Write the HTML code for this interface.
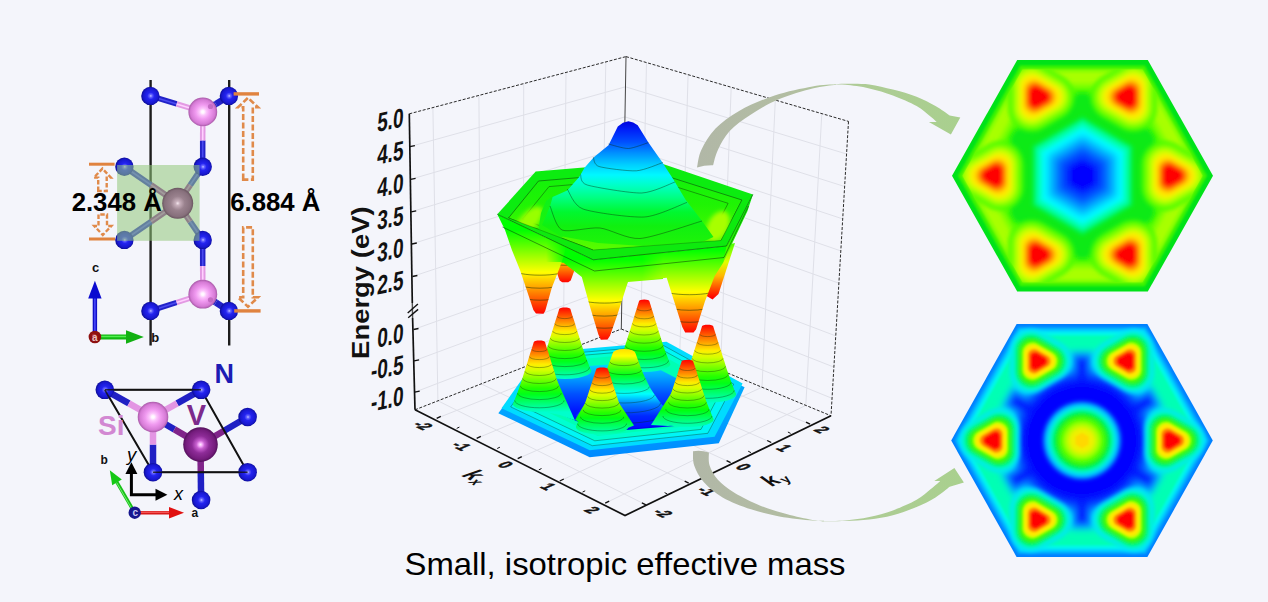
<!DOCTYPE html><html><head><meta charset="utf-8"><style>html,body{margin:0;padding:0;background:#f4f5fb;overflow:hidden}svg{display:block}text{font-family:"Liberation Sans",sans-serif}</style></head><body>
<svg width="1268" height="602" viewBox="0 0 1268 602">
<defs>
<filter id="b1" filterUnits="userSpaceOnUse" x="0" y="0" width="1268" height="602"><feGaussianBlur stdDeviation="1.2"/></filter>
<filter id="b2" filterUnits="userSpaceOnUse" x="0" y="0" width="1268" height="602"><feGaussianBlur stdDeviation="2.2"/></filter>
<filter id="b3" filterUnits="userSpaceOnUse" x="0" y="0" width="1268" height="602"><feGaussianBlur stdDeviation="3.5"/></filter>
<filter id="b5" filterUnits="userSpaceOnUse" x="0" y="0" width="1268" height="602"><feGaussianBlur stdDeviation="5"/></filter>
<radialGradient id="gN" cx="0.52" cy="0.5" r="0.5"><stop offset="0" stop-color="#c8c8ff"/><stop offset="0.14" stop-color="#6a6aff"/><stop offset="0.38" stop-color="#2424f0"/><stop offset="0.8" stop-color="#1818d0"/><stop offset="1" stop-color="#0e0e9a"/></radialGradient>
<radialGradient id="gSi" cx="0.5" cy="0.5" r="0.5"><stop offset="0" stop-color="#ffffff"/><stop offset="0.1" stop-color="#fff4ff"/><stop offset="0.25" stop-color="#fcc4fc"/><stop offset="0.5" stop-color="#f09af0"/><stop offset="0.85" stop-color="#d57ad5"/><stop offset="1" stop-color="#a85aa8"/></radialGradient>
<radialGradient id="gV" cx="0.5" cy="0.5" r="0.5"><stop offset="0" stop-color="#f4e6ee"/><stop offset="0.14" stop-color="#c8b0bc"/><stop offset="0.45" stop-color="#9a828e"/><stop offset="0.85" stop-color="#87707c"/><stop offset="1" stop-color="#6a5660"/></radialGradient>
<radialGradient id="gV2" cx="0.5" cy="0.5" r="0.5"><stop offset="0" stop-color="#fff0ff"/><stop offset="0.1" stop-color="#f8b0fc"/><stop offset="0.24" stop-color="#c860d0"/><stop offset="0.5" stop-color="#8e2c98"/><stop offset="0.85" stop-color="#741c7c"/><stop offset="1" stop-color="#54105c"/></radialGradient>
<linearGradient id="g1" gradientUnits="userSpaceOnUse" x1="0.0" y1="405.0" x2="0.0" y2="460.0"><stop offset="0.000" stop-color="#00a8ff"/><stop offset="1.000" stop-color="#0088ff"/></linearGradient>
<linearGradient id="g2" gradientUnits="userSpaceOnUse" x1="0.0" y1="360.0" x2="0.0" y2="428.0"><stop offset="0.000" stop-color="#00e8ff"/><stop offset="0.235" stop-color="#00a8ff"/><stop offset="0.500" stop-color="#0050ff"/><stop offset="0.735" stop-color="#0018ff"/><stop offset="1.000" stop-color="#0000f0"/></linearGradient>
<linearGradient id="g3" gradientUnits="userSpaceOnUse" x1="0.0" y1="307.4" x2="0.0" y2="379.0"><stop offset="0.000" stop-color="#ff0000"/><stop offset="0.083" stop-color="#ff3b00"/><stop offset="0.167" stop-color="#ff7700"/><stop offset="0.250" stop-color="#ffb200"/><stop offset="0.333" stop-color="#ffed00"/><stop offset="0.417" stop-color="#d4ff00"/><stop offset="0.500" stop-color="#99ff00"/><stop offset="0.583" stop-color="#5dff00"/><stop offset="0.667" stop-color="#22ff00"/><stop offset="0.750" stop-color="#00ff19"/><stop offset="0.833" stop-color="#00ff55"/><stop offset="0.917" stop-color="#00ff90"/><stop offset="1.000" stop-color="#00ffcb"/></linearGradient>
<linearGradient id="g4" gradientUnits="userSpaceOnUse" x1="0.0" y1="299.6" x2="0.0" y2="372.1"><stop offset="0.000" stop-color="#ff0000"/><stop offset="0.083" stop-color="#ff3b00"/><stop offset="0.167" stop-color="#ff7700"/><stop offset="0.250" stop-color="#ffb200"/><stop offset="0.333" stop-color="#ffed00"/><stop offset="0.417" stop-color="#d4ff00"/><stop offset="0.500" stop-color="#99ff00"/><stop offset="0.583" stop-color="#5dff00"/><stop offset="0.667" stop-color="#22ff00"/><stop offset="0.750" stop-color="#00ff19"/><stop offset="0.833" stop-color="#00ff55"/><stop offset="0.917" stop-color="#00ff90"/><stop offset="1.000" stop-color="#00ffcb"/></linearGradient>
<linearGradient id="g5" gradientUnits="userSpaceOnUse" x1="0.0" y1="349.0" x2="0.0" y2="432.0"><stop offset="0.000" stop-color="#ffe000"/><stop offset="0.084" stop-color="#ffff00"/><stop offset="0.181" stop-color="#7aff00"/><stop offset="0.313" stop-color="#00ff1e"/><stop offset="0.446" stop-color="#00ffa3"/><stop offset="0.542" stop-color="#00ffff"/><stop offset="0.663" stop-color="#0084ff"/><stop offset="0.807" stop-color="#0028ff"/><stop offset="1.000" stop-color="#0000ff"/></linearGradient>
<linearGradient id="g6" gradientUnits="userSpaceOnUse" x1="0.0" y1="340.4" x2="0.0" y2="412.0"><stop offset="0.000" stop-color="#ff0000"/><stop offset="0.083" stop-color="#ff3b00"/><stop offset="0.167" stop-color="#ff7700"/><stop offset="0.250" stop-color="#ffb200"/><stop offset="0.333" stop-color="#ffed00"/><stop offset="0.417" stop-color="#d4ff00"/><stop offset="0.500" stop-color="#99ff00"/><stop offset="0.583" stop-color="#5dff00"/><stop offset="0.667" stop-color="#22ff00"/><stop offset="0.750" stop-color="#00ff19"/><stop offset="0.833" stop-color="#00ff55"/><stop offset="0.917" stop-color="#00ff90"/><stop offset="1.000" stop-color="#00ffcb"/></linearGradient>
<linearGradient id="g7" gradientUnits="userSpaceOnUse" x1="0.0" y1="324.7" x2="0.0" y2="402.9"><stop offset="0.000" stop-color="#ff0000"/><stop offset="0.083" stop-color="#ff3b00"/><stop offset="0.167" stop-color="#ff7700"/><stop offset="0.250" stop-color="#ffb200"/><stop offset="0.333" stop-color="#ffed00"/><stop offset="0.417" stop-color="#d4ff00"/><stop offset="0.500" stop-color="#99ff00"/><stop offset="0.583" stop-color="#5dff00"/><stop offset="0.667" stop-color="#22ff00"/><stop offset="0.750" stop-color="#00ff19"/><stop offset="0.833" stop-color="#00ff55"/><stop offset="0.917" stop-color="#00ff90"/><stop offset="1.000" stop-color="#00ffcb"/></linearGradient>
<linearGradient id="g8" gradientUnits="userSpaceOnUse" x1="0.0" y1="367.4" x2="0.0" y2="434.9"><stop offset="0.000" stop-color="#ff0000"/><stop offset="0.083" stop-color="#ff3a00"/><stop offset="0.167" stop-color="#ff7500"/><stop offset="0.250" stop-color="#ffaf00"/><stop offset="0.333" stop-color="#ffea00"/><stop offset="0.417" stop-color="#d8ff00"/><stop offset="0.500" stop-color="#9eff00"/><stop offset="0.583" stop-color="#63ff00"/><stop offset="0.667" stop-color="#28ff00"/><stop offset="0.750" stop-color="#00ff11"/><stop offset="0.833" stop-color="#00ff4c"/><stop offset="0.917" stop-color="#00ff87"/><stop offset="1.000" stop-color="#00ffc1"/></linearGradient>
<linearGradient id="g9" gradientUnits="userSpaceOnUse" x1="0.0" y1="359.8" x2="0.0" y2="427.3"><stop offset="0.000" stop-color="#ff0000"/><stop offset="0.083" stop-color="#ff3a00"/><stop offset="0.167" stop-color="#ff7500"/><stop offset="0.250" stop-color="#ffaf00"/><stop offset="0.333" stop-color="#ffea00"/><stop offset="0.417" stop-color="#d8ff00"/><stop offset="0.500" stop-color="#9eff00"/><stop offset="0.583" stop-color="#63ff00"/><stop offset="0.667" stop-color="#28ff00"/><stop offset="0.750" stop-color="#00ff11"/><stop offset="0.833" stop-color="#00ff4c"/><stop offset="0.917" stop-color="#00ff87"/><stop offset="1.000" stop-color="#00ffc1"/></linearGradient>
<linearGradient id="g10" gradientUnits="userSpaceOnUse" x1="0.0" y1="282.5" x2="0.0" y2="240.5"><stop offset="-0.000" stop-color="#ff0000"/><stop offset="0.100" stop-color="#ff2600"/><stop offset="0.200" stop-color="#ff4d00"/><stop offset="0.300" stop-color="#ff7400"/><stop offset="0.400" stop-color="#ff9b00"/><stop offset="0.500" stop-color="#ffc100"/><stop offset="0.600" stop-color="#ffe800"/><stop offset="0.700" stop-color="#eeff00"/><stop offset="0.800" stop-color="#c7ff00"/><stop offset="0.900" stop-color="#a1ff00"/><stop offset="1.000" stop-color="#7aff00"/></linearGradient>
<linearGradient id="g11" gradientUnits="userSpaceOnUse" x1="0.0" y1="276.0" x2="0.0" y2="234.0"><stop offset="-0.000" stop-color="#ff0000"/><stop offset="0.100" stop-color="#ff2600"/><stop offset="0.200" stop-color="#ff4d00"/><stop offset="0.300" stop-color="#ff7400"/><stop offset="0.400" stop-color="#ff9b00"/><stop offset="0.500" stop-color="#ffc100"/><stop offset="0.600" stop-color="#ffe800"/><stop offset="0.700" stop-color="#eeff00"/><stop offset="0.800" stop-color="#c7ff00"/><stop offset="0.900" stop-color="#a1ff00"/><stop offset="1.000" stop-color="#7aff00"/></linearGradient>
<linearGradient id="g12" gradientUnits="userSpaceOnUse" x1="0.0" y1="244.0" x2="0.0" y2="298.0"><stop offset="0.000" stop-color="#51ff00"/><stop offset="0.333" stop-color="#e0ff00"/><stop offset="0.593" stop-color="#ffb700"/><stop offset="0.815" stop-color="#ff5100"/><stop offset="1.000" stop-color="#ff0000"/></linearGradient>
<linearGradient id="g13" gradientUnits="userSpaceOnUse" x1="0.0" y1="170.0" x2="0.0" y2="255.0"><stop offset="0.000" stop-color="#10f00c"/><stop offset="0.412" stop-color="#20f404"/><stop offset="0.765" stop-color="#44fa00"/><stop offset="1.000" stop-color="#60fc00"/></linearGradient>
<linearGradient id="g14" gradientUnits="userSpaceOnUse" x1="0.0" y1="190.0" x2="0.0" y2="230.0"><stop offset="0.000" stop-color="#08f020"/><stop offset="1.000" stop-color="#20f408"/></linearGradient>
<linearGradient id="g15" gradientUnits="userSpaceOnUse" x1="0.0" y1="121.0" x2="0.0" y2="246.0"><stop offset="0.000" stop-color="#0000dc"/><stop offset="0.072" stop-color="#0020f8"/><stop offset="0.168" stop-color="#0050ff"/><stop offset="0.256" stop-color="#0090ff"/><stop offset="0.352" stop-color="#00d0ff"/><stop offset="0.432" stop-color="#00f8ff"/><stop offset="0.512" stop-color="#00ffc8"/><stop offset="0.616" stop-color="#00ff80"/><stop offset="0.728" stop-color="#00f830"/><stop offset="0.840" stop-color="#10f010"/><stop offset="1.000" stop-color="#20f408"/></linearGradient>
<linearGradient id="pks" gradientUnits="userSpaceOnUse" x1="560" y1="0" x2="640" y2="0"><stop offset="0" stop-color="#fff" stop-opacity="0.12"/><stop offset="0.5" stop-color="#fff" stop-opacity="0.05"/><stop offset="1" stop-color="#fff" stop-opacity="0"/></linearGradient>
<linearGradient id="g16" gradientUnits="userSpaceOnUse" x1="0.0" y1="194.0" x2="0.0" y2="264.0"><stop offset="0.000" stop-color="#08f008"/><stop offset="0.657" stop-color="#20f800"/><stop offset="1.000" stop-color="#70ff00"/></linearGradient>
<linearGradient id="g17" gradientUnits="userSpaceOnUse" x1="0.0" y1="341.2" x2="0.0" y2="259.5"><stop offset="-0.000" stop-color="#ff0000"/><stop offset="0.100" stop-color="#ff3300"/><stop offset="0.200" stop-color="#ff6500"/><stop offset="0.300" stop-color="#ff9900"/><stop offset="0.400" stop-color="#ffcb00"/><stop offset="0.500" stop-color="#ffff00"/><stop offset="0.600" stop-color="#cbff00"/><stop offset="0.700" stop-color="#99ff00"/><stop offset="0.800" stop-color="#65ff00"/><stop offset="0.900" stop-color="#33ff00"/><stop offset="1.000" stop-color="#00ff00"/></linearGradient>
<linearGradient id="mg1" gradientUnits="userSpaceOnUse" x1="546" y1="0" x2="567" y2="0"><stop offset="0" stop-color="#fff"/><stop offset="1" stop-color="#000"/></linearGradient>
<mask id="mk1" maskUnits="userSpaceOnUse" x="480" y="200" width="120" height="130"><rect x="480" y="200" width="120" height="130" fill="#fff"/><rect x="546" y="230" width="30" height="32" fill="url(#mg1)"/></mask>
<linearGradient id="g18" gradientUnits="userSpaceOnUse" x1="0.0" y1="314.3" x2="0.0" y2="230.0"><stop offset="-0.000" stop-color="#ff0000"/><stop offset="0.100" stop-color="#ff3300"/><stop offset="0.200" stop-color="#ff6500"/><stop offset="0.300" stop-color="#ff9900"/><stop offset="0.400" stop-color="#ffcb00"/><stop offset="0.500" stop-color="#ffff00"/><stop offset="0.600" stop-color="#cbff00"/><stop offset="0.700" stop-color="#99ff00"/><stop offset="0.800" stop-color="#65ff00"/><stop offset="0.900" stop-color="#33ff00"/><stop offset="1.000" stop-color="#00ff00"/></linearGradient>
<linearGradient id="mg3" gradientUnits="userSpaceOnUse" x1="642" y1="0" x2="663" y2="0"><stop offset="0" stop-color="#000"/><stop offset="1" stop-color="#fff"/></linearGradient>
<mask id="mk3" maskUnits="userSpaceOnUse" x="630" y="230" width="130" height="120"><rect x="630" y="230" width="130" height="120" fill="#fff"/><rect x="630" y="240" width="33" height="42" fill="url(#mg3)"/></mask>
<linearGradient id="g19" gradientUnits="userSpaceOnUse" x1="0.0" y1="333.5" x2="0.0" y2="250.0"><stop offset="-0.000" stop-color="#ff0000"/><stop offset="0.100" stop-color="#ff3300"/><stop offset="0.200" stop-color="#ff6500"/><stop offset="0.300" stop-color="#ff9900"/><stop offset="0.400" stop-color="#ffcb00"/><stop offset="0.500" stop-color="#ffff00"/><stop offset="0.600" stop-color="#cbff00"/><stop offset="0.700" stop-color="#99ff00"/><stop offset="0.800" stop-color="#65ff00"/><stop offset="0.900" stop-color="#33ff00"/><stop offset="1.000" stop-color="#00ff00"/></linearGradient>
</defs>
<rect width="1268" height="602" fill="#f4f5fb"/>
<clipPath id="hc1"><polygon points="1213.0,175.8 1147.8,291.6 1017.2,291.6 952.0,175.8 1017.2,60.0 1147.8,60.0"/></clipPath>
<g clip-path="url(#hc1)">
<polygon points="1222.5,175.8 1152.5,300.0 1012.5,300.0 942.5,175.8 1012.5,51.6 1152.5,51.6" fill="#00e218"/>
<g filter="url(#b1)">
<polygon points="1207.0,175.8 1144.8,286.2 1020.2,286.2 958.0,175.8 1020.2,65.4 1144.8,65.4" fill="#3cf400"/>
<polygon points="1202.5,175.8 1142.5,282.2 1022.5,282.2 962.5,175.8 1022.5,69.4 1142.5,69.4" fill="#8cff00"/>
<polygon points="1198.5,175.8 1140.5,278.7 1024.5,278.7 966.5,175.8 1024.5,72.9 1140.5,72.9" fill="#a8ff00"/>
</g>
<g filter="url(#b2)">
<polygon points="1186.5,175.8 1134.5,268.0 1030.5,268.0 978.5,175.8 1030.5,83.6 1134.5,83.6" fill="#80ff00"/>
<polygon points="1181.5,175.8 1132.0,263.6 1033.0,263.6 983.5,175.8 1033.0,88.0 1132.0,88.0" fill="#50fc00"/>
</g>
<clipPath id="hc1b"><polygon points="1202.5,175.8 1142.5,282.2 1022.5,282.2 962.5,175.8 1022.5,69.4 1142.5,69.4"/></clipPath>
<g filter="url(#b2)">
<polygon points="1173.5,175.8 1128.0,256.5 1037.0,256.5 991.5,175.8 1037.0,95.1 1128.0,95.1" fill="#08ea14"/>
<g transform="translate(1082.5,175.8) scale(1,1.0242) rotate(30)"><rect x="40" y="-5.5" width="41" height="11" fill="#08ea14"/></g>
<g transform="translate(1082.5,175.8) scale(1,1.0242) rotate(90)"><rect x="40" y="-5.5" width="41" height="11" fill="#08ea14"/></g>
<g transform="translate(1082.5,175.8) scale(1,1.0242) rotate(150)"><rect x="40" y="-5.5" width="41" height="11" fill="#08ea14"/></g>
<g transform="translate(1082.5,175.8) scale(1,1.0242) rotate(210)"><rect x="40" y="-5.5" width="41" height="11" fill="#08ea14"/></g>
<g transform="translate(1082.5,175.8) scale(1,1.0242) rotate(270)"><rect x="40" y="-5.5" width="41" height="11" fill="#08ea14"/></g>
<g transform="translate(1082.5,175.8) scale(1,1.0242) rotate(330)"><rect x="40" y="-5.5" width="41" height="11" fill="#08ea14"/></g>
</g>
<g clip-path="url(#hc1b)">
<g filter="url(#b2)">
<polygon points="1184.5,175.8 1165.0,187.1 1165.0,164.5" fill="#50fc00" stroke="#50fc00" stroke-width="47.0" stroke-linejoin="round"/>
<polygon points="1184.5,175.8 1165.0,187.1 1165.0,164.5" fill="#80ff00" stroke="#80ff00" stroke-width="39.0" stroke-linejoin="round"/>
<polygon points="1184.5,175.8 1165.0,187.1 1165.0,164.5" fill="#a8ff00" stroke="#a8ff00" stroke-width="33.0" stroke-linejoin="round"/>
</g>
<g filter="url(#b2)">
<polygon points="1133.5,266.0 1114.0,254.7 1133.5,243.5" fill="#50fc00" stroke="#50fc00" stroke-width="47.0" stroke-linejoin="round"/>
<polygon points="1133.5,266.0 1114.0,254.7 1133.5,243.5" fill="#80ff00" stroke="#80ff00" stroke-width="39.0" stroke-linejoin="round"/>
<polygon points="1133.5,266.0 1114.0,254.7 1133.5,243.5" fill="#a8ff00" stroke="#a8ff00" stroke-width="33.0" stroke-linejoin="round"/>
</g>
<g filter="url(#b2)">
<polygon points="1031.5,266.0 1031.5,243.5 1051.0,254.7" fill="#50fc00" stroke="#50fc00" stroke-width="47.0" stroke-linejoin="round"/>
<polygon points="1031.5,266.0 1031.5,243.5 1051.0,254.7" fill="#80ff00" stroke="#80ff00" stroke-width="39.0" stroke-linejoin="round"/>
<polygon points="1031.5,266.0 1031.5,243.5 1051.0,254.7" fill="#a8ff00" stroke="#a8ff00" stroke-width="33.0" stroke-linejoin="round"/>
</g>
<g filter="url(#b2)">
<polygon points="980.5,175.8 1000.0,164.5 1000.0,187.1" fill="#50fc00" stroke="#50fc00" stroke-width="47.0" stroke-linejoin="round"/>
<polygon points="980.5,175.8 1000.0,164.5 1000.0,187.1" fill="#80ff00" stroke="#80ff00" stroke-width="39.0" stroke-linejoin="round"/>
<polygon points="980.5,175.8 1000.0,164.5 1000.0,187.1" fill="#a8ff00" stroke="#a8ff00" stroke-width="33.0" stroke-linejoin="round"/>
</g>
<g filter="url(#b2)">
<polygon points="1031.5,85.6 1051.0,96.9 1031.5,108.1" fill="#50fc00" stroke="#50fc00" stroke-width="47.0" stroke-linejoin="round"/>
<polygon points="1031.5,85.6 1051.0,96.9 1031.5,108.1" fill="#80ff00" stroke="#80ff00" stroke-width="39.0" stroke-linejoin="round"/>
<polygon points="1031.5,85.6 1051.0,96.9 1031.5,108.1" fill="#a8ff00" stroke="#a8ff00" stroke-width="33.0" stroke-linejoin="round"/>
</g>
<g filter="url(#b2)">
<polygon points="1133.5,85.6 1133.5,108.1 1114.0,96.9" fill="#50fc00" stroke="#50fc00" stroke-width="47.0" stroke-linejoin="round"/>
<polygon points="1133.5,85.6 1133.5,108.1 1114.0,96.9" fill="#80ff00" stroke="#80ff00" stroke-width="39.0" stroke-linejoin="round"/>
<polygon points="1133.5,85.6 1133.5,108.1 1114.0,96.9" fill="#a8ff00" stroke="#a8ff00" stroke-width="33.0" stroke-linejoin="round"/>
</g>
</g>
<g filter="url(#b2)">
<polygon points="1132.7,205.5 1082.5,235.2 1032.3,205.5 1032.3,146.1 1082.5,116.4 1132.7,146.1" fill="#00f450"/>
<polygon points="1129.3,203.5 1082.5,231.1 1035.7,203.5 1035.7,148.1 1082.5,120.5 1129.3,148.1" fill="#00ffa0"/>
<polygon points="1125.4,201.1 1082.5,226.5 1039.6,201.1 1039.6,150.5 1082.5,125.1 1125.4,150.5" fill="#00ffd8"/>
<polygon points="1121.9,199.1 1082.5,222.4 1043.1,199.1 1043.1,152.5 1082.5,129.2 1121.9,152.5" fill="#00ffff"/>
</g>
<g filter="url(#b3)">
<polygon points="1117.1,196.3 1082.5,216.8 1047.9,196.3 1047.9,155.3 1082.5,134.8 1117.1,155.3" fill="#00c4ff"/>
<polygon points="1111.9,193.2 1082.5,210.6 1053.1,193.2 1053.1,158.4 1082.5,141.0 1111.9,158.4" fill="#0088ff"/>
<polygon points="1105.9,189.6 1082.5,203.5 1059.1,189.6 1059.1,162.0 1082.5,148.1 1105.9,162.0" fill="#0048ff"/>
<polygon points="1098.1,185.0 1082.5,194.2 1066.9,185.0 1066.9,166.6 1082.5,157.4 1098.1,166.6" fill="#0000ff"/>
</g>
<g filter="url(#b2)">
<polygon points="1184.5,175.8 1165.0,187.1 1165.0,164.5" fill="#d8ff00" stroke="#d8ff00" stroke-width="28.0" stroke-linejoin="round"/>
<polygon points="1182.5,175.8 1166.0,185.3 1166.0,166.3" fill="#ffe800" stroke="#ffe800" stroke-width="24.0" stroke-linejoin="round"/>
<polygon points="1179.5,175.8 1167.5,182.7 1167.5,168.9" fill="#ffa000" stroke="#ffa000" stroke-width="19.0" stroke-linejoin="round"/>
<polygon points="1177.5,175.8 1168.5,181.0 1168.5,170.6" fill="#ff4800" stroke="#ff4800" stroke-width="15.0" stroke-linejoin="round"/>
<polygon points="1176.5,175.8 1169.0,180.1 1169.0,171.5" fill="#ff0000" stroke="#ff0000" stroke-width="12.0" stroke-linejoin="round"/>
</g>
<g filter="url(#b2)">
<polygon points="1133.5,266.0 1114.0,254.7 1133.5,243.5" fill="#d8ff00" stroke="#d8ff00" stroke-width="28.0" stroke-linejoin="round"/>
<polygon points="1132.5,264.3 1116.0,254.7 1132.5,245.2" fill="#ffe800" stroke="#ffe800" stroke-width="24.0" stroke-linejoin="round"/>
<polygon points="1131.0,261.7 1119.0,254.7 1131.0,247.8" fill="#ffa000" stroke="#ffa000" stroke-width="19.0" stroke-linejoin="round"/>
<polygon points="1130.0,259.9 1121.0,254.7 1130.0,249.5" fill="#ff4800" stroke="#ff4800" stroke-width="15.0" stroke-linejoin="round"/>
<polygon points="1129.5,259.1 1122.0,254.7 1129.5,250.4" fill="#ff0000" stroke="#ff0000" stroke-width="12.0" stroke-linejoin="round"/>
</g>
<g filter="url(#b2)">
<polygon points="1031.5,266.0 1031.5,243.5 1051.0,254.7" fill="#d8ff00" stroke="#d8ff00" stroke-width="28.0" stroke-linejoin="round"/>
<polygon points="1032.5,264.3 1032.5,245.2 1049.0,254.7" fill="#ffe800" stroke="#ffe800" stroke-width="24.0" stroke-linejoin="round"/>
<polygon points="1034.0,261.7 1034.0,247.8 1046.0,254.7" fill="#ffa000" stroke="#ffa000" stroke-width="19.0" stroke-linejoin="round"/>
<polygon points="1035.0,259.9 1035.0,249.5 1044.0,254.7" fill="#ff4800" stroke="#ff4800" stroke-width="15.0" stroke-linejoin="round"/>
<polygon points="1035.5,259.1 1035.5,250.4 1043.0,254.7" fill="#ff0000" stroke="#ff0000" stroke-width="12.0" stroke-linejoin="round"/>
</g>
<g filter="url(#b2)">
<polygon points="980.5,175.8 1000.0,164.5 1000.0,187.1" fill="#d8ff00" stroke="#d8ff00" stroke-width="28.0" stroke-linejoin="round"/>
<polygon points="982.5,175.8 999.0,166.3 999.0,185.3" fill="#ffe800" stroke="#ffe800" stroke-width="24.0" stroke-linejoin="round"/>
<polygon points="985.5,175.8 997.5,168.9 997.5,182.7" fill="#ffa000" stroke="#ffa000" stroke-width="19.0" stroke-linejoin="round"/>
<polygon points="987.5,175.8 996.5,170.6 996.5,181.0" fill="#ff4800" stroke="#ff4800" stroke-width="15.0" stroke-linejoin="round"/>
<polygon points="988.5,175.8 996.0,171.5 996.0,180.1" fill="#ff0000" stroke="#ff0000" stroke-width="12.0" stroke-linejoin="round"/>
</g>
<g filter="url(#b2)">
<polygon points="1031.5,85.6 1051.0,96.9 1031.5,108.1" fill="#d8ff00" stroke="#d8ff00" stroke-width="28.0" stroke-linejoin="round"/>
<polygon points="1032.5,87.3 1049.0,96.9 1032.5,106.4" fill="#ffe800" stroke="#ffe800" stroke-width="24.0" stroke-linejoin="round"/>
<polygon points="1034.0,89.9 1046.0,96.9 1034.0,103.8" fill="#ffa000" stroke="#ffa000" stroke-width="19.0" stroke-linejoin="round"/>
<polygon points="1035.0,91.7 1044.0,96.9 1035.0,102.1" fill="#ff4800" stroke="#ff4800" stroke-width="15.0" stroke-linejoin="round"/>
<polygon points="1035.5,92.5 1043.0,96.9 1035.5,101.2" fill="#ff0000" stroke="#ff0000" stroke-width="12.0" stroke-linejoin="round"/>
</g>
<g filter="url(#b2)">
<polygon points="1133.5,85.6 1133.5,108.1 1114.0,96.9" fill="#d8ff00" stroke="#d8ff00" stroke-width="28.0" stroke-linejoin="round"/>
<polygon points="1132.5,87.3 1132.5,106.4 1116.0,96.9" fill="#ffe800" stroke="#ffe800" stroke-width="24.0" stroke-linejoin="round"/>
<polygon points="1131.0,89.9 1131.0,103.8 1119.0,96.9" fill="#ffa000" stroke="#ffa000" stroke-width="19.0" stroke-linejoin="round"/>
<polygon points="1130.0,91.7 1130.0,102.1 1121.0,96.9" fill="#ff4800" stroke="#ff4800" stroke-width="15.0" stroke-linejoin="round"/>
<polygon points="1129.5,92.5 1129.5,101.2 1122.0,96.9" fill="#ff0000" stroke="#ff0000" stroke-width="12.0" stroke-linejoin="round"/>
</g>
</g>
<clipPath id="hc2"><polygon points="1212.8,440.5 1147.4,557.0 1016.6,557.0 951.2,440.5 1016.6,324.0 1147.4,324.0"/></clipPath>
<g clip-path="url(#hc2)">
<polygon points="1222.0,440.5 1152.0,565.2 1012.0,565.2 942.0,440.5 1012.0,315.8 1152.0,315.8" fill="#0080ff"/>
<g filter="url(#b1)">
<polygon points="1209.5,440.5 1145.8,554.1 1018.2,554.1 954.5,440.5 1018.2,326.9 1145.8,326.9" fill="#00a8ff"/>
<polygon points="1206.5,440.5 1144.2,551.4 1019.8,551.4 957.5,440.5 1019.8,329.6 1144.2,329.6" fill="#00d4ff"/>
<polygon points="1203.5,440.5 1142.8,548.7 1021.2,548.7 960.5,440.5 1021.2,332.3 1142.8,332.3" fill="#00f8e8"/>
<polygon points="1200.0,440.5 1141.0,545.6 1023.0,545.6 964.0,440.5 1023.0,335.4 1141.0,335.4" fill="#00ffb4"/>
</g>
<g filter="url(#b3)">
<g transform="translate(1082.0,440.5) scale(1,1.0285) rotate(30)"><rect x="40" y="-14.0" width="47.0" height="28.0" fill="#00dcff"/></g>
<g transform="translate(1082.0,440.5) scale(1,1.0285) rotate(90)"><rect x="40" y="-14.0" width="47.0" height="28.0" fill="#00dcff"/></g>
<g transform="translate(1082.0,440.5) scale(1,1.0285) rotate(150)"><rect x="40" y="-14.0" width="47.0" height="28.0" fill="#00dcff"/></g>
<g transform="translate(1082.0,440.5) scale(1,1.0285) rotate(210)"><rect x="40" y="-14.0" width="47.0" height="28.0" fill="#00dcff"/></g>
<g transform="translate(1082.0,440.5) scale(1,1.0285) rotate(270)"><rect x="40" y="-14.0" width="47.0" height="28.0" fill="#00dcff"/></g>
<g transform="translate(1082.0,440.5) scale(1,1.0285) rotate(330)"><rect x="40" y="-14.0" width="47.0" height="28.0" fill="#00dcff"/></g>
<circle cx="1082.0" cy="440.5" r="77" fill="#00dcff"/>
<g transform="translate(1082.0,440.5) scale(1,1.0285) rotate(30)"><rect x="40" y="-10.5" width="45.0" height="21.0" fill="#0098ff"/></g>
<g transform="translate(1082.0,440.5) scale(1,1.0285) rotate(90)"><rect x="40" y="-10.5" width="45.0" height="21.0" fill="#0098ff"/></g>
<g transform="translate(1082.0,440.5) scale(1,1.0285) rotate(150)"><rect x="40" y="-10.5" width="45.0" height="21.0" fill="#0098ff"/></g>
<g transform="translate(1082.0,440.5) scale(1,1.0285) rotate(210)"><rect x="40" y="-10.5" width="45.0" height="21.0" fill="#0098ff"/></g>
<g transform="translate(1082.0,440.5) scale(1,1.0285) rotate(270)"><rect x="40" y="-10.5" width="45.0" height="21.0" fill="#0098ff"/></g>
<g transform="translate(1082.0,440.5) scale(1,1.0285) rotate(330)"><rect x="40" y="-10.5" width="45.0" height="21.0" fill="#0098ff"/></g>
<circle cx="1082.0" cy="440.5" r="73" fill="#0098ff"/>
<g transform="translate(1082.0,440.5) scale(1,1.0285) rotate(30)"><rect x="40" y="-7.5" width="43.0" height="15.0" fill="#0050ff"/></g>
<g transform="translate(1082.0,440.5) scale(1,1.0285) rotate(90)"><rect x="40" y="-7.5" width="43.0" height="15.0" fill="#0050ff"/></g>
<g transform="translate(1082.0,440.5) scale(1,1.0285) rotate(150)"><rect x="40" y="-7.5" width="43.0" height="15.0" fill="#0050ff"/></g>
<g transform="translate(1082.0,440.5) scale(1,1.0285) rotate(210)"><rect x="40" y="-7.5" width="43.0" height="15.0" fill="#0050ff"/></g>
<g transform="translate(1082.0,440.5) scale(1,1.0285) rotate(270)"><rect x="40" y="-7.5" width="43.0" height="15.0" fill="#0050ff"/></g>
<g transform="translate(1082.0,440.5) scale(1,1.0285) rotate(330)"><rect x="40" y="-7.5" width="43.0" height="15.0" fill="#0050ff"/></g>
<circle cx="1082.0" cy="440.5" r="68.5" fill="#0050ff"/>
<g transform="translate(1082.0,440.5) scale(1,1.0285) rotate(30)"><rect x="40" y="-4.5" width="39.0" height="9.0" fill="#0018ff"/></g>
<g transform="translate(1082.0,440.5) scale(1,1.0285) rotate(90)"><rect x="40" y="-4.5" width="39.0" height="9.0" fill="#0018ff"/></g>
<g transform="translate(1082.0,440.5) scale(1,1.0285) rotate(150)"><rect x="40" y="-4.5" width="39.0" height="9.0" fill="#0018ff"/></g>
<g transform="translate(1082.0,440.5) scale(1,1.0285) rotate(210)"><rect x="40" y="-4.5" width="39.0" height="9.0" fill="#0018ff"/></g>
<g transform="translate(1082.0,440.5) scale(1,1.0285) rotate(270)"><rect x="40" y="-4.5" width="39.0" height="9.0" fill="#0018ff"/></g>
<g transform="translate(1082.0,440.5) scale(1,1.0285) rotate(330)"><rect x="40" y="-4.5" width="39.0" height="9.0" fill="#0018ff"/></g>
<circle cx="1082.0" cy="440.5" r="63" fill="#0014ff"/>
<circle cx="1082.0" cy="440.5" r="56" fill="#0000ff"/>
</g>
<g filter="url(#b2)">
<polygon points="1185.0,440.5 1164.0,452.6 1164.0,428.4" fill="#00e0ff" stroke="#00e0ff" stroke-width="40.0" stroke-linejoin="round"/>
<polygon points="1184.0,440.5 1164.5,451.8 1164.5,429.2" fill="#00ffb0" stroke="#00ffb0" stroke-width="35.0" stroke-linejoin="round"/>
<polygon points="1183.0,440.5 1165.0,450.9 1165.0,430.1" fill="#00f020" stroke="#00f020" stroke-width="30.0" stroke-linejoin="round"/>
<polygon points="1182.0,440.5 1165.5,450.0 1165.5,431.0" fill="#50ff00" stroke="#50ff00" stroke-width="23.0" stroke-linejoin="round"/>
</g>
<g filter="url(#b2)">
<polygon points="1133.5,531.9 1112.5,519.8 1133.5,507.6" fill="#00e0ff" stroke="#00e0ff" stroke-width="40.0" stroke-linejoin="round"/>
<polygon points="1133.0,531.0 1113.5,519.8 1133.0,508.5" fill="#00ffb0" stroke="#00ffb0" stroke-width="35.0" stroke-linejoin="round"/>
<polygon points="1132.5,530.2 1114.5,519.8 1132.5,509.4" fill="#00f020" stroke="#00f020" stroke-width="30.0" stroke-linejoin="round"/>
<polygon points="1132.0,529.3 1115.5,519.8 1132.0,510.2" fill="#50ff00" stroke="#50ff00" stroke-width="23.0" stroke-linejoin="round"/>
</g>
<g filter="url(#b2)">
<polygon points="1030.5,531.9 1030.5,507.6 1051.5,519.8" fill="#00e0ff" stroke="#00e0ff" stroke-width="40.0" stroke-linejoin="round"/>
<polygon points="1031.0,531.0 1031.0,508.5 1050.5,519.8" fill="#00ffb0" stroke="#00ffb0" stroke-width="35.0" stroke-linejoin="round"/>
<polygon points="1031.5,530.2 1031.5,509.4 1049.5,519.8" fill="#00f020" stroke="#00f020" stroke-width="30.0" stroke-linejoin="round"/>
<polygon points="1032.0,529.3 1032.0,510.2 1048.5,519.8" fill="#50ff00" stroke="#50ff00" stroke-width="23.0" stroke-linejoin="round"/>
</g>
<g filter="url(#b2)">
<polygon points="979.0,440.5 1000.0,428.4 1000.0,452.6" fill="#00e0ff" stroke="#00e0ff" stroke-width="40.0" stroke-linejoin="round"/>
<polygon points="980.0,440.5 999.5,429.2 999.5,451.8" fill="#00ffb0" stroke="#00ffb0" stroke-width="35.0" stroke-linejoin="round"/>
<polygon points="981.0,440.5 999.0,430.1 999.0,450.9" fill="#00f020" stroke="#00f020" stroke-width="30.0" stroke-linejoin="round"/>
<polygon points="982.0,440.5 998.5,431.0 998.5,450.0" fill="#50ff00" stroke="#50ff00" stroke-width="23.0" stroke-linejoin="round"/>
</g>
<g filter="url(#b2)">
<polygon points="1030.5,349.1 1051.5,361.2 1030.5,373.4" fill="#00e0ff" stroke="#00e0ff" stroke-width="40.0" stroke-linejoin="round"/>
<polygon points="1031.0,350.0 1050.5,361.2 1031.0,372.5" fill="#00ffb0" stroke="#00ffb0" stroke-width="35.0" stroke-linejoin="round"/>
<polygon points="1031.5,350.8 1049.5,361.2 1031.5,371.6" fill="#00f020" stroke="#00f020" stroke-width="30.0" stroke-linejoin="round"/>
<polygon points="1032.0,351.7 1048.5,361.2 1032.0,370.8" fill="#50ff00" stroke="#50ff00" stroke-width="23.0" stroke-linejoin="round"/>
</g>
<g filter="url(#b2)">
<polygon points="1133.5,349.1 1133.5,373.4 1112.5,361.2" fill="#00e0ff" stroke="#00e0ff" stroke-width="40.0" stroke-linejoin="round"/>
<polygon points="1133.0,350.0 1133.0,372.5 1113.5,361.2" fill="#00ffb0" stroke="#00ffb0" stroke-width="35.0" stroke-linejoin="round"/>
<polygon points="1132.5,350.8 1132.5,371.6 1114.5,361.2" fill="#00f020" stroke="#00f020" stroke-width="30.0" stroke-linejoin="round"/>
<polygon points="1132.0,351.7 1132.0,370.8 1115.5,361.2" fill="#50ff00" stroke="#50ff00" stroke-width="23.0" stroke-linejoin="round"/>
</g>
<g filter="url(#b2)">
<circle cx="1082.0" cy="440.5" r="39" fill="#0090ff"/>
<circle cx="1082.0" cy="440.5" r="36" fill="#00d8ff"/>
<circle cx="1082.0" cy="440.5" r="32.5" fill="#00ffb0"/>
<circle cx="1082.0" cy="440.5" r="29" fill="#00f020"/>
<circle cx="1082.0" cy="440.5" r="23.5" fill="#50ff00"/>
<circle cx="1082.0" cy="440.5" r="18" fill="#b0ff00"/>
<circle cx="1082.0" cy="440.5" r="13" fill="#f0f000"/>
</g>
<polygon points="1088.5,444.4 1082.0,448.2 1075.5,444.4 1075.5,436.6 1082.0,432.8 1088.5,436.6" fill="#ffd800" filter="url(#b1)"/>
<g filter="url(#b1)">
<polygon points="1181.0,440.5 1166.0,449.2 1166.0,431.8" fill="#c0ff00" stroke="#c0ff00" stroke-width="20.0" stroke-linejoin="round"/>
<polygon points="1180.0,440.5 1166.5,448.3 1166.5,432.7" fill="#ffe800" stroke="#ffe800" stroke-width="17.0" stroke-linejoin="round"/>
<polygon points="1178.0,440.5 1167.5,446.6 1167.5,434.4" fill="#ff8800" stroke="#ff8800" stroke-width="12.5" stroke-linejoin="round"/>
<polygon points="1176.0,440.5 1168.5,444.8 1168.5,436.2" fill="#ff2800" stroke="#ff2800" stroke-width="10.0" stroke-linejoin="round"/>
<polygon points="1175.0,440.5 1169.0,444.0 1169.0,437.0" fill="#ff0000" stroke="#ff0000" stroke-width="7.0" stroke-linejoin="round"/>
</g>
<g filter="url(#b1)">
<polygon points="1131.5,528.4 1116.5,519.8 1131.5,511.1" fill="#c0ff00" stroke="#c0ff00" stroke-width="20.0" stroke-linejoin="round"/>
<polygon points="1131.0,527.6 1117.5,519.8 1131.0,512.0" fill="#ffe800" stroke="#ffe800" stroke-width="17.0" stroke-linejoin="round"/>
<polygon points="1130.0,525.8 1119.5,519.8 1130.0,513.7" fill="#ff8800" stroke="#ff8800" stroke-width="12.5" stroke-linejoin="round"/>
<polygon points="1129.0,524.1 1121.5,519.8 1129.0,515.4" fill="#ff2800" stroke="#ff2800" stroke-width="10.0" stroke-linejoin="round"/>
<polygon points="1128.5,523.2 1122.5,519.8 1128.5,516.3" fill="#ff0000" stroke="#ff0000" stroke-width="7.0" stroke-linejoin="round"/>
</g>
<g filter="url(#b1)">
<polygon points="1032.5,528.4 1032.5,511.1 1047.5,519.8" fill="#c0ff00" stroke="#c0ff00" stroke-width="20.0" stroke-linejoin="round"/>
<polygon points="1033.0,527.6 1033.0,512.0 1046.5,519.8" fill="#ffe800" stroke="#ffe800" stroke-width="17.0" stroke-linejoin="round"/>
<polygon points="1034.0,525.8 1034.0,513.7 1044.5,519.8" fill="#ff8800" stroke="#ff8800" stroke-width="12.5" stroke-linejoin="round"/>
<polygon points="1035.0,524.1 1035.0,515.4 1042.5,519.8" fill="#ff2800" stroke="#ff2800" stroke-width="10.0" stroke-linejoin="round"/>
<polygon points="1035.5,523.2 1035.5,516.3 1041.5,519.8" fill="#ff0000" stroke="#ff0000" stroke-width="7.0" stroke-linejoin="round"/>
</g>
<g filter="url(#b1)">
<polygon points="983.0,440.5 998.0,431.8 998.0,449.2" fill="#c0ff00" stroke="#c0ff00" stroke-width="20.0" stroke-linejoin="round"/>
<polygon points="984.0,440.5 997.5,432.7 997.5,448.3" fill="#ffe800" stroke="#ffe800" stroke-width="17.0" stroke-linejoin="round"/>
<polygon points="986.0,440.5 996.5,434.4 996.5,446.6" fill="#ff8800" stroke="#ff8800" stroke-width="12.5" stroke-linejoin="round"/>
<polygon points="988.0,440.5 995.5,436.2 995.5,444.8" fill="#ff2800" stroke="#ff2800" stroke-width="10.0" stroke-linejoin="round"/>
<polygon points="989.0,440.5 995.0,437.0 995.0,444.0" fill="#ff0000" stroke="#ff0000" stroke-width="7.0" stroke-linejoin="round"/>
</g>
<g filter="url(#b1)">
<polygon points="1032.5,352.6 1047.5,361.2 1032.5,369.9" fill="#c0ff00" stroke="#c0ff00" stroke-width="20.0" stroke-linejoin="round"/>
<polygon points="1033.0,353.4 1046.5,361.2 1033.0,369.0" fill="#ffe800" stroke="#ffe800" stroke-width="17.0" stroke-linejoin="round"/>
<polygon points="1034.0,355.2 1044.5,361.2 1034.0,367.3" fill="#ff8800" stroke="#ff8800" stroke-width="12.5" stroke-linejoin="round"/>
<polygon points="1035.0,356.9 1042.5,361.2 1035.0,365.6" fill="#ff2800" stroke="#ff2800" stroke-width="10.0" stroke-linejoin="round"/>
<polygon points="1035.5,357.8 1041.5,361.2 1035.5,364.7" fill="#ff0000" stroke="#ff0000" stroke-width="7.0" stroke-linejoin="round"/>
</g>
<g filter="url(#b1)">
<polygon points="1131.5,352.6 1131.5,369.9 1116.5,361.2" fill="#c0ff00" stroke="#c0ff00" stroke-width="20.0" stroke-linejoin="round"/>
<polygon points="1131.0,353.4 1131.0,369.0 1117.5,361.2" fill="#ffe800" stroke="#ffe800" stroke-width="17.0" stroke-linejoin="round"/>
<polygon points="1130.0,355.2 1130.0,367.3 1119.5,361.2" fill="#ff8800" stroke="#ff8800" stroke-width="12.5" stroke-linejoin="round"/>
<polygon points="1129.0,356.9 1129.0,365.6 1121.5,361.2" fill="#ff2800" stroke="#ff2800" stroke-width="10.0" stroke-linejoin="round"/>
<polygon points="1128.5,357.8 1128.5,364.7 1122.5,361.2" fill="#ff0000" stroke="#ff0000" stroke-width="7.0" stroke-linejoin="round"/>
</g>
</g>
<line x1="150.6" y1="80" x2="150.6" y2="345.5" stroke="#1c1c1c" stroke-width="2.4"/>
<line x1="229.2" y1="80" x2="229.2" y2="345.5" stroke="#1c1c1c" stroke-width="2.4"/>
<line x1="150.4" y1="95.9" x2="176.6" y2="103.9" stroke="#2222c8" stroke-width="5.5"/><line x1="176.6" y1="103.9" x2="202.8" y2="111.9" stroke="#e39ae3" stroke-width="5.5"/><line x1="150.4" y1="95.9" x2="176.6" y2="103.9" stroke="#4a4af0" stroke-width="1.6"/><line x1="176.6" y1="103.9" x2="202.8" y2="111.9" stroke="#ffd0ff" stroke-width="1.6"/>
<line x1="228.9" y1="95.9" x2="215.9" y2="103.9" stroke="#2222c8" stroke-width="6.5"/><line x1="215.9" y1="103.9" x2="202.8" y2="111.9" stroke="#2222c8" stroke-width="6.5"/>
<line x1="202.7" y1="166.8" x2="202.7" y2="140.4" stroke="#2222c8" stroke-width="5.5"/><line x1="202.7" y1="140.4" x2="202.8" y2="111.9" stroke="#e39ae3" stroke-width="5.5"/><line x1="202.7" y1="166.8" x2="202.7" y2="140.4" stroke="#4a4af0" stroke-width="1.6"/><line x1="202.7" y1="140.4" x2="202.8" y2="111.9" stroke="#ffd0ff" stroke-width="1.6"/>
<line x1="150.4" y1="310.9" x2="176.6" y2="302.5" stroke="#2222c8" stroke-width="5.5"/><line x1="176.6" y1="302.5" x2="202.8" y2="294.2" stroke="#e39ae3" stroke-width="5.5"/><line x1="150.4" y1="310.9" x2="176.6" y2="302.5" stroke="#4a4af0" stroke-width="1.6"/><line x1="176.6" y1="302.5" x2="202.8" y2="294.2" stroke="#ffd0ff" stroke-width="1.6"/>
<line x1="228.9" y1="310.9" x2="215.9" y2="302.5" stroke="#2222c8" stroke-width="6.5"/><line x1="215.9" y1="302.5" x2="202.8" y2="294.2" stroke="#2222c8" stroke-width="6.5"/>
<line x1="202.7" y1="239.9" x2="202.7" y2="266.0" stroke="#2222c8" stroke-width="5.5"/><line x1="202.7" y1="266.0" x2="202.8" y2="294.2" stroke="#e39ae3" stroke-width="5.5"/><line x1="202.7" y1="239.9" x2="202.7" y2="266.0" stroke="#4a4af0" stroke-width="1.6"/><line x1="202.7" y1="266.0" x2="202.8" y2="294.2" stroke="#ffd0ff" stroke-width="1.6"/>
<line x1="124.4" y1="166.8" x2="151.1" y2="185.1" stroke="#2a2ac8" stroke-width="6.0"/><line x1="151.1" y1="185.1" x2="177.7" y2="203.3" stroke="#8a2a9a" stroke-width="6.0"/><line x1="124.4" y1="166.8" x2="151.1" y2="185.1" stroke="#5050f0" stroke-width="1.8"/><line x1="151.1" y1="185.1" x2="177.7" y2="203.3" stroke="#b468c4" stroke-width="1.8"/>
<line x1="202.7" y1="166.8" x2="190.2" y2="185.1" stroke="#2a2ac8" stroke-width="6.0"/><line x1="190.2" y1="185.1" x2="177.7" y2="203.3" stroke="#8a2a9a" stroke-width="6.0"/><line x1="202.7" y1="166.8" x2="190.2" y2="185.1" stroke="#5050f0" stroke-width="1.8"/><line x1="190.2" y1="185.1" x2="177.7" y2="203.3" stroke="#b468c4" stroke-width="1.8"/>
<line x1="124.4" y1="239.9" x2="151.1" y2="221.6" stroke="#2a2ac8" stroke-width="6.0"/><line x1="151.1" y1="221.6" x2="177.7" y2="203.3" stroke="#8a2a9a" stroke-width="6.0"/><line x1="124.4" y1="239.9" x2="151.1" y2="221.6" stroke="#5050f0" stroke-width="1.8"/><line x1="151.1" y1="221.6" x2="177.7" y2="203.3" stroke="#b468c4" stroke-width="1.8"/>
<line x1="202.7" y1="239.9" x2="190.2" y2="221.6" stroke="#2a2ac8" stroke-width="6.0"/><line x1="190.2" y1="221.6" x2="177.7" y2="203.3" stroke="#8a2a9a" stroke-width="6.0"/><line x1="202.7" y1="239.9" x2="190.2" y2="221.6" stroke="#5050f0" stroke-width="1.8"/><line x1="190.2" y1="221.6" x2="177.7" y2="203.3" stroke="#b468c4" stroke-width="1.8"/>
<circle cx="150.4" cy="95.9" r="9.2" fill="url(#gN)"/>
<circle cx="228.9" cy="95.9" r="9.2" fill="url(#gN)"/>
<circle cx="202.7" cy="166.8" r="9.2" fill="url(#gN)"/>
<circle cx="124.4" cy="166.8" r="9.2" fill="url(#gN)"/>
<circle cx="124.4" cy="239.9" r="9.2" fill="url(#gN)"/>
<circle cx="202.7" cy="239.9" r="9.2" fill="url(#gN)"/>
<circle cx="150.4" cy="310.9" r="9.2" fill="url(#gN)"/>
<circle cx="228.9" cy="310.9" r="9.2" fill="url(#gN)"/>
<circle cx="202.8" cy="111.9" r="14.4" fill="url(#gSi)"/>
<circle cx="202.8" cy="294.2" r="14.4" fill="url(#gSi)"/>
<circle cx="210.5" cy="106.5" r="2.6" fill="#c068c0" opacity="0.9"/>
<circle cx="210.5" cy="299.8" r="2.6" fill="#c068c0" opacity="0.9"/>
<rect x="117.1" y="165" width="82.5" height="75.8" fill="rgb(145,199,122)" fill-opacity="0.55"/>
<circle cx="177.7" cy="203.3" r="15.5" fill="url(#gV)"/>
<rect x="233.6" y="92.2" width="25.4" height="3.4" fill="#e0833f"/>
<rect x="234.2" y="309.2" width="26.4" height="3.4" fill="#e0833f"/>
<rect x="89" y="162.7" width="25.6" height="3" fill="#e0833f"/>
<rect x="89" y="237.5" width="26" height="3" fill="#e0833f"/>
<path d="M243.2 179.6 L243.2 107.3 L238.0 107.3 L248.0 97.8 L258.0 107.3 L252.8 107.3 L252.8 179.6 Z" fill="none" stroke="#e08a4a" stroke-width="2.6" stroke-dasharray="6 2.5" stroke-linejoin="miter"/>
<path d="M243.2 227.4 L243.2 297.3 L238.0 297.3 L248.0 306.8 L258.0 297.3 L252.8 297.3 L252.8 227.4 Z" fill="none" stroke="#e08a4a" stroke-width="2.6" stroke-dasharray="6 2.5" stroke-linejoin="miter"/>
<path d="M98.2 191.0 L98.2 177.6 L93.9 177.6 L102.4 168.6 L110.9 177.6 L106.7 177.6 L106.7 191.0 Z" fill="none" stroke="#e08a4a" stroke-width="2.4" stroke-dasharray="4.5 2" stroke-linejoin="miter"/>
<path d="M98.5 214.5 L98.5 226.0 L94.3 226.0 L102.8 235.0 L111.3 226.0 L107.0 226.0 L107.0 214.5 Z" fill="none" stroke="#e08a4a" stroke-width="2.4" stroke-dasharray="4.5 2" stroke-linejoin="miter"/>
<text x="71.7" y="210.6" font-size="25" font-weight="bold" fill="#000" textLength="90" lengthAdjust="spacingAndGlyphs">2.348 Å</text>
<text x="230.2" y="210.6" font-size="25" font-weight="bold" fill="#000" textLength="90.2" lengthAdjust="spacingAndGlyphs">6.884 Å</text>
<line x1="94.9" y1="337" x2="94.9" y2="296" stroke="#1010c8" stroke-width="4.4"/>
<line x1="94.9" y1="337" x2="94.9" y2="296" stroke="#5050ff" stroke-width="1.4"/>
<polygon points="88.2,298.6 101.6,298.6 94.9,280.8" fill="#0a0ad0"/>
<line x1="94.9" y1="337" x2="128" y2="337" stroke="#10b810" stroke-width="5"/>
<line x1="94.9" y1="336.5" x2="128" y2="336.5" stroke="#50f050" stroke-width="1.4"/>
<polygon points="126,330.2 126,343.8 143.8,337" fill="#12b012"/>
<circle cx="94.9" cy="337" r="6.3" fill="#8e1010"/>
<circle cx="94" cy="336" r="2.2" fill="#c04040" opacity="0.7"/>
<text x="95.6" y="272" font-size="13" font-weight="bold" fill="#111" text-anchor="middle">c</text>
<text x="155.3" y="341.5" font-size="13" font-weight="bold" fill="#111" text-anchor="middle">b</text>
<text x="94.9" y="340.6" font-size="10" font-weight="bold" fill="#e8c0c0" text-anchor="middle">a</text>
<line x1="104.8" y1="389.8" x2="128.9" y2="403.4" stroke="#2020c4" stroke-width="6.5"/><line x1="128.9" y1="403.4" x2="153.0" y2="417.0" stroke="#e396e3" stroke-width="6.5"/>
<line x1="201.1" y1="389.8" x2="177.1" y2="403.4" stroke="#2020c4" stroke-width="6.5"/><line x1="177.1" y1="403.4" x2="153.0" y2="417.0" stroke="#e396e3" stroke-width="6.5"/>
<line x1="153.0" y1="472.2" x2="153.0" y2="444.6" stroke="#2020c4" stroke-width="6.5"/><line x1="153.0" y1="444.6" x2="153.0" y2="417.0" stroke="#e396e3" stroke-width="6.5"/>
<line x1="247.6" y1="417.0" x2="224.1" y2="430.8" stroke="#2020c4" stroke-width="6.5"/><line x1="224.1" y1="430.8" x2="200.5" y2="444.6" stroke="#80248a" stroke-width="6.5"/>
<line x1="201.1" y1="500.0" x2="200.8" y2="472.3" stroke="#2020c4" stroke-width="6.5"/><line x1="200.8" y1="472.3" x2="200.5" y2="444.6" stroke="#80248a" stroke-width="6.5"/>
<line x1="153.0" y1="417.0" x2="174.4" y2="429.4" stroke="#2020c4" stroke-width="6.5"/><line x1="174.4" y1="429.4" x2="200.5" y2="444.6" stroke="#80248a" stroke-width="6.5"/>
<polygon points="104.8,389.8 201.1,389.8 247.6,472.2 153,472.2" fill="none" stroke="#111" stroke-width="2"/>
<circle cx="104.8" cy="389.8" r="9.3" fill="url(#gN)"/>
<circle cx="201.1" cy="389.8" r="9.3" fill="url(#gN)"/>
<circle cx="247.6" cy="417.0" r="9.3" fill="url(#gN)"/>
<circle cx="153.0" cy="472.2" r="9.3" fill="url(#gN)"/>
<circle cx="247.6" cy="472.2" r="9.3" fill="url(#gN)"/>
<circle cx="201.1" cy="500.0" r="9.3" fill="url(#gN)"/>
<polyline points="104.8,389.8 201.1,389.8" fill="none" stroke="#111" stroke-width="1.6" opacity="0.8"/>
<polyline points="153,472.2 247.6,472.2" fill="none" stroke="#111" stroke-width="1.6" opacity="0.8"/>
<polyline points="104.8,389.8 110,399" fill="none" stroke="#111" stroke-width="1.6" opacity="0.8"/>
<circle cx="153.0" cy="417.0" r="15.3" fill="url(#gSi)"/>
<circle cx="200.5" cy="444.6" r="17.3" fill="url(#gV2)"/>
<text x="214.6" y="382.6" font-size="27" font-weight="bold" fill="#1c1cb4">N</text>
<text x="98" y="434.8" font-size="28" font-weight="bold" fill="#d288d2">Si</text>
<text x="186.8" y="425" font-size="29" font-weight="bold" fill="#7c2a8c">V</text>
<polyline points="131.4,470 131.4,494.8 158,494.8" fill="none" stroke="#000" stroke-width="3"/>
<polygon points="125.4,474 137.4,474 131.4,462.2" fill="#000"/>
<polygon points="155.5,488.8 155.5,500.8 167.4,494.8" fill="#000"/>
<text x="127" y="460.5" font-size="18.5" font-style="italic" fill="#000">y</text>
<text x="174" y="500" font-size="18" font-style="italic" fill="#000">x</text>
<line x1="134.7" y1="512.7" x2="172" y2="512.7" stroke="#d81818" stroke-width="3.4"/>
<line x1="134.7" y1="512.2" x2="172" y2="512.2" stroke="#ff7070" stroke-width="1"/>
<polygon points="169,507 169,518.4 184,512.7" fill="#e01010"/>
<line x1="134.7" y1="512.7" x2="116" y2="480.7" stroke="#18c018" stroke-width="3.4"/>
<line x1="134.3" y1="512.9" x2="115.6" y2="480.9" stroke="#70f070" stroke-width="1"/>
<polygon points="112.2,485.2 121.8,479.6 109.8,470.2" fill="#14c814"/>
<circle cx="134.7" cy="512.7" r="6.2" fill="#16168e"/>
<text x="135.2" y="516.4" font-size="10" font-weight="bold" fill="#c8c8f0" text-anchor="middle">c</text>
<text x="104.2" y="464" font-size="12" font-weight="bold" fill="#111" text-anchor="middle">b</text>
<text x="194.8" y="516.6" font-size="12" font-weight="bold" fill="#111" text-anchor="middle">a</text>
<line x1="409.9" y1="146.6" x2="625.5" y2="86.8" stroke="#dfe0e8" stroke-width="1.00" />
<line x1="625.5" y1="86.8" x2="846.6" y2="154.0" stroke="#dfe0e8" stroke-width="1.00" />
<line x1="410.6" y1="179.3" x2="625.0" y2="116.9" stroke="#dfe0e8" stroke-width="1.00" />
<line x1="625.0" y1="116.9" x2="844.6" y2="186.5" stroke="#dfe0e8" stroke-width="1.00" />
<line x1="411.2" y1="211.8" x2="624.4" y2="146.8" stroke="#dfe0e8" stroke-width="1.00" />
<line x1="624.4" y1="146.8" x2="842.7" y2="218.9" stroke="#dfe0e8" stroke-width="1.00" />
<line x1="411.8" y1="244.0" x2="623.9" y2="176.4" stroke="#dfe0e8" stroke-width="1.00" />
<line x1="623.9" y1="176.4" x2="840.8" y2="250.9" stroke="#dfe0e8" stroke-width="1.00" />
<line x1="412.4" y1="276.5" x2="623.4" y2="206.3" stroke="#dfe0e8" stroke-width="1.00" />
<line x1="623.4" y1="206.3" x2="838.9" y2="283.2" stroke="#dfe0e8" stroke-width="1.00" />
<line x1="413.5" y1="329.5" x2="622.6" y2="255.1" stroke="#dfe0e8" stroke-width="1.00" />
<line x1="622.6" y1="255.1" x2="835.7" y2="335.9" stroke="#dfe0e8" stroke-width="1.00" />
<line x1="414.1" y1="360.8" x2="622.1" y2="283.9" stroke="#dfe0e8" stroke-width="1.00" />
<line x1="622.1" y1="283.9" x2="833.9" y2="367.1" stroke="#dfe0e8" stroke-width="1.00" />
<line x1="414.7" y1="392.2" x2="621.6" y2="312.8" stroke="#dfe0e8" stroke-width="1.00" />
<line x1="621.6" y1="312.8" x2="832.0" y2="398.3" stroke="#dfe0e8" stroke-width="1.00" />
<line x1="432.9" y1="107.6" x2="437.9" y2="400.8" stroke="#dfe0e8" stroke-width="1.00" />
<line x1="478.9" y1="95.4" x2="481.2" y2="383.9" stroke="#dfe0e8" stroke-width="1.00" />
<line x1="523.7" y1="83.6" x2="523.5" y2="367.3" stroke="#dfe0e8" stroke-width="1.00" />
<line x1="566.0" y1="72.4" x2="563.3" y2="351.7" stroke="#dfe0e8" stroke-width="1.00" />
<line x1="605.8" y1="61.9" x2="600.9" y2="337.0" stroke="#dfe0e8" stroke-width="1.00" />
<line x1="646.5" y1="62.6" x2="640.6" y2="337.0" stroke="#dfe0e8" stroke-width="1.00" />
<line x1="688.1" y1="74.7" x2="679.8" y2="353.2" stroke="#dfe0e8" stroke-width="1.00" />
<line x1="731.2" y1="87.3" x2="720.5" y2="370.1" stroke="#dfe0e8" stroke-width="1.00" />
<line x1="775.3" y1="100.1" x2="762.0" y2="387.2" stroke="#dfe0e8" stroke-width="1.00" />
<line x1="821.8" y1="113.6" x2="805.8" y2="405.4" stroke="#dfe0e8" stroke-width="1.00" />
<line x1="436.7" y1="418.4" x2="640.6" y2="337.0" stroke="#dfe0e8" stroke-width="1.00" />
<line x1="476.7" y1="438.4" x2="679.8" y2="353.2" stroke="#dfe0e8" stroke-width="1.00" />
<line x1="517.7" y1="458.7" x2="720.5" y2="370.1" stroke="#dfe0e8" stroke-width="1.00" />
<line x1="559.8" y1="481.0" x2="762.0" y2="387.2" stroke="#dfe0e8" stroke-width="1.00" />
<line x1="605.2" y1="503.2" x2="805.8" y2="405.4" stroke="#dfe0e8" stroke-width="1.00" />
<line x1="645.9" y1="504.8" x2="437.9" y2="400.8" stroke="#dfe0e8" stroke-width="1.00" />
<line x1="688.7" y1="483.1" x2="481.2" y2="383.9" stroke="#dfe0e8" stroke-width="1.00" />
<line x1="730.6" y1="462.6" x2="523.5" y2="367.3" stroke="#dfe0e8" stroke-width="1.00" />
<line x1="771.2" y1="442.5" x2="563.3" y2="351.7" stroke="#dfe0e8" stroke-width="1.00" />
<line x1="810.0" y1="424.2" x2="600.9" y2="337.0" stroke="#dfe0e8" stroke-width="1.00" />
<line x1="409.3" y1="113.8" x2="626.0" y2="56.6" stroke="#2a2a2a" stroke-width="1.00" stroke-dasharray="3 1.6"/>
<line x1="626.0" y1="56.6" x2="848.5" y2="121.4" stroke="#2a2a2a" stroke-width="1.00" stroke-dasharray="3 1.6"/>
<line x1="848.5" y1="121.4" x2="831.0" y2="415.8" stroke="#2a2a2a" stroke-width="1.00" stroke-dasharray="3 1.6"/>
<line x1="415.0" y1="409.8" x2="621.3" y2="329.0" stroke="#2a2a2a" stroke-width="1.00" stroke-dasharray="3 1.6"/>
<line x1="621.3" y1="329.0" x2="831.0" y2="415.8" stroke="#2a2a2a" stroke-width="1.00" stroke-dasharray="3 1.6"/>
<line x1="626.0" y1="56.6" x2="621.3" y2="329.0" stroke="#444" stroke-width="1.00" />
<polygon points="498.3,413.2 589.7,457.2 718.8,443.3 744.6,387.3 667.0,347.5 540.0,358.0" fill="url(#g1)" />
<polygon points="501.5,408.2 589.7,450.2 714.6,436.8 742.6,383.6 666.5,341.8 541.0,352.5" fill="#00dcff" />
<polygon points="510.7,406.9 592.3,445.7 707.8,433.3 733.7,384.1 663.3,345.4 547.2,355.3" fill="#00f6f6" stroke="#0a2a0a" stroke-width="0.60" stroke-linejoin="round" stroke-opacity="0.6"/>
<polygon points="519.9,405.1 594.8,440.8 701.0,429.4 724.8,384.2 660.1,348.7 553.5,357.8" fill="#00ffd0" stroke="#0a2a0a" stroke-width="0.60" stroke-linejoin="round" stroke-opacity="0.6"/>
<polygon points="529.7,403.5 597.6,435.9 693.8,425.6 715.3,384.6 656.7,352.4 560.1,360.7" fill="#00ffb4" />
<polygon points="539.0,405.0 560.0,368.0 645.0,362.0 707.0,394.0 687.0,425.0 602.0,432.0" fill="url(#g2)" />
<polygon points="559.2,309.0 559.6,308.4 560.8,307.9 562.7,307.5 564.8,307.4 566.9,307.5 568.8,307.9 570.0,308.4 570.4,309.0 571.6,312.9 572.8,316.8 574.1,320.6 575.3,324.5 576.5,328.4 577.7,332.2 578.9,336.1 580.1,340.0 581.4,343.9 582.6,347.8 583.9,351.6 585.2,355.5 586.7,359.4 588.2,363.2 589.7,367.1 591.4,371.0 590.5,373.1 587.8,375.0 583.6,376.6 578.1,377.9 571.7,378.7 564.8,379.0 557.9,378.7 551.5,377.9 546.0,376.6 541.8,375.0 539.1,373.1 538.2,371.0 539.9,367.1 541.4,363.2 542.9,359.4 544.4,355.5 545.7,351.6 547.0,347.8 548.2,343.9 549.4,340.0 550.7,336.1 551.9,332.2 553.1,328.4 554.3,324.5 555.5,320.6 556.8,316.8 558.0,312.9" fill="url(#g3)"/>
<path d="M557.2 316.3 A7.6 2.3 0 0 0 572.4 316.3" fill="none" stroke="#0a2a0a" stroke-width="0.6" opacity="0.60"/>
<path d="M554.9 323.6 A9.9 3.0 0 0 0 574.7 323.6" fill="none" stroke="#0a2a0a" stroke-width="0.6" opacity="0.60"/>
<path d="M552.6 330.9 A12.2 3.7 0 0 0 577.0 330.9" fill="none" stroke="#0a2a0a" stroke-width="0.6" opacity="0.60"/>
<path d="M550.3 338.2 A14.5 4.3 0 0 0 579.3 338.2" fill="none" stroke="#0a2a0a" stroke-width="0.6" opacity="0.60"/>
<path d="M548.0 345.5 A16.8 5.0 0 0 0 581.6 345.5" fill="none" stroke="#0a2a0a" stroke-width="0.6" opacity="0.60"/>
<path d="M545.6 352.8 A19.2 5.8 0 0 0 584.0 352.8" fill="none" stroke="#0a2a0a" stroke-width="0.6" opacity="0.60"/>
<path d="M543.0 360.1 A21.8 6.5 0 0 0 586.6 360.1" fill="none" stroke="#0a2a0a" stroke-width="0.6" opacity="0.60"/>
<path d="M540.1 367.4 A24.7 7.4 0 0 0 589.5 367.4" fill="none" stroke="#0a2a0a" stroke-width="0.6" opacity="0.60"/>
<polygon points="639.0,301.2 639.4,300.6 640.5,300.1 642.2,299.7 644.2,299.6 646.2,299.7 647.9,300.1 649.0,300.6 649.4,301.2 650.6,305.1 651.8,309.1 653.1,313.0 654.3,316.9 655.5,320.9 656.7,324.8 657.9,328.8 659.2,332.7 660.4,336.6 661.6,340.6 662.9,344.5 664.2,348.4 665.7,352.4 667.2,356.3 668.7,360.3 670.4,364.2 669.5,366.2 666.9,368.1 662.7,369.8 657.3,371.0 651.0,371.8 644.2,372.1 637.4,371.8 631.1,371.0 625.7,369.8 621.5,368.1 618.9,366.2 618.0,364.2 619.7,360.3 621.2,356.3 622.7,352.4 624.2,348.4 625.5,344.5 626.8,340.6 628.0,336.6 629.2,332.7 630.5,328.8 631.7,324.8 632.9,320.9 634.1,316.9 635.3,313.0 636.6,309.1 637.8,305.1" fill="url(#g4)"/>
<path d="M637.0 308.6 A7.2 2.2 0 0 0 651.4 308.6" fill="none" stroke="#0a2a0a" stroke-width="0.6" opacity="0.60"/>
<path d="M634.7 316.0 A9.5 2.8 0 0 0 653.7 316.0" fill="none" stroke="#0a2a0a" stroke-width="0.6" opacity="0.60"/>
<path d="M632.4 323.4 A11.8 3.5 0 0 0 656.0 323.4" fill="none" stroke="#0a2a0a" stroke-width="0.6" opacity="0.60"/>
<path d="M630.1 330.8 A14.1 4.2 0 0 0 658.3 330.8" fill="none" stroke="#0a2a0a" stroke-width="0.6" opacity="0.60"/>
<path d="M627.8 338.3 A16.4 4.9 0 0 0 660.6 338.3" fill="none" stroke="#0a2a0a" stroke-width="0.6" opacity="0.60"/>
<path d="M625.4 345.7 A18.8 5.6 0 0 0 663.0 345.7" fill="none" stroke="#0a2a0a" stroke-width="0.6" opacity="0.60"/>
<path d="M622.8 353.1 A21.4 6.4 0 0 0 665.6 353.1" fill="none" stroke="#0a2a0a" stroke-width="0.6" opacity="0.60"/>
<path d="M619.9 360.5 A24.3 7.3 0 0 0 668.5 360.5" fill="none" stroke="#0a2a0a" stroke-width="0.6" opacity="0.60"/>
<polygon points="612.6,353.5 613.5,351.8 616.0,350.3 619.7,349.3 624.1,349.0 628.5,349.3 632.2,350.3 634.7,351.8 635.6,353.5 637.0,357.4 638.4,361.2 639.8,365.1 641.3,369.0 642.9,372.9 644.6,376.8 646.5,380.6 648.5,384.5 650.6,388.4 653.0,392.2 655.6,396.1 658.4,400.0 661.5,403.9 664.9,407.8 668.6,411.6 672.6,415.5 670.9,418.9 666.1,422.0 658.4,424.8 648.4,426.8 636.7,428.1 624.1,428.6 611.5,428.1 599.9,426.8 589.8,424.8 582.1,422.0 577.3,418.9 575.6,415.5 579.6,411.6 583.3,407.8 586.7,403.9 589.8,400.0 592.6,396.1 595.2,392.2 597.6,388.4 599.7,384.5 601.7,380.6 603.6,376.8 605.3,372.9 606.9,369.0 608.4,365.1 609.8,361.2 611.2,357.4" fill="url(#g5)"/>
<path d="M609.9 361.8 A14.2 3.8 0 0 0 638.3 361.8" fill="none" stroke="#0a2a0a" stroke-width="0.6" opacity="0.60"/>
<path d="M606.7 370.0 A17.4 4.7 0 0 0 641.5 370.0" fill="none" stroke="#0a2a0a" stroke-width="0.6" opacity="0.60"/>
<path d="M603.1 378.3 A21.0 5.7 0 0 0 645.1 378.3" fill="none" stroke="#0a2a0a" stroke-width="0.6" opacity="0.60"/>
<path d="M598.9 386.6 A25.2 6.8 0 0 0 649.3 386.6" fill="none" stroke="#0a2a0a" stroke-width="0.6" opacity="0.60"/>
<path d="M593.8 394.8 A30.3 8.2 0 0 0 654.4 394.8" fill="none" stroke="#0a2a0a" stroke-width="0.6" opacity="0.60"/>
<path d="M587.6 403.1 A36.5 9.8 0 0 0 660.6 403.1" fill="none" stroke="#0a2a0a" stroke-width="0.6" opacity="0.60"/>
<path d="M580.2 411.4 A43.9 11.9 0 0 0 668.0 411.4" fill="none" stroke="#0a2a0a" stroke-width="0.6" opacity="0.60"/>
<polygon points="555.0,376.0 574.9,420.3 560.0,415.0 545.0,412.0" fill="url(#g6)"/>
<polygon points="533.8,342.0 534.2,341.4 535.4,340.9 537.3,340.5 539.4,340.4 541.5,340.5 543.4,340.9 544.6,341.4 545.0,342.0 546.2,345.9 547.4,349.8 548.7,353.6 549.9,357.5 551.1,361.4 552.3,365.2 553.5,369.1 554.8,373.0 556.0,376.9 557.2,380.8 558.5,384.6 559.8,388.5 561.3,392.4 562.8,396.2 564.3,400.1 566.0,404.0 565.1,406.1 562.4,408.0 558.2,409.6 552.7,410.9 546.3,411.7 539.4,412.0 532.5,411.7 526.1,410.9 520.6,409.6 516.4,408.0 513.7,406.1 512.8,404.0 514.5,400.1 516.0,396.2 517.5,392.4 519.0,388.5 520.3,384.6 521.6,380.8 522.8,376.9 524.0,373.0 525.3,369.1 526.5,365.2 527.7,361.4 528.9,357.5 530.1,353.6 531.4,349.8 532.6,345.9" fill="url(#g6)"/>
<path d="M531.8 349.3 A7.6 2.3 0 0 0 547.0 349.3" fill="none" stroke="#0a2a0a" stroke-width="0.6" opacity="0.60"/>
<path d="M529.5 356.6 A9.9 3.0 0 0 0 549.3 356.6" fill="none" stroke="#0a2a0a" stroke-width="0.6" opacity="0.60"/>
<path d="M527.2 363.9 A12.2 3.7 0 0 0 551.6 363.9" fill="none" stroke="#0a2a0a" stroke-width="0.6" opacity="0.60"/>
<path d="M524.9 371.2 A14.5 4.3 0 0 0 553.9 371.2" fill="none" stroke="#0a2a0a" stroke-width="0.6" opacity="0.60"/>
<path d="M522.6 378.5 A16.8 5.0 0 0 0 556.2 378.5" fill="none" stroke="#0a2a0a" stroke-width="0.6" opacity="0.60"/>
<path d="M520.2 385.8 A19.2 5.8 0 0 0 558.6 385.8" fill="none" stroke="#0a2a0a" stroke-width="0.6" opacity="0.60"/>
<path d="M517.6 393.1 A21.8 6.5 0 0 0 561.2 393.1" fill="none" stroke="#0a2a0a" stroke-width="0.6" opacity="0.60"/>
<path d="M514.7 400.4 A24.7 7.4 0 0 0 564.1 400.4" fill="none" stroke="#0a2a0a" stroke-width="0.6" opacity="0.60"/>
<polygon points="702.0,326.3 702.4,325.7 703.6,325.2 705.5,324.8 707.6,324.7 709.7,324.8 711.6,325.2 712.8,325.7 713.2,326.3 714.5,330.6 715.9,334.8 717.2,339.1 718.6,343.3 719.9,347.6 721.3,351.8 722.6,356.1 724.0,360.3 725.3,364.6 726.6,368.8 728.1,373.1 729.5,377.3 731.1,381.6 732.7,385.8 734.4,390.1 736.2,394.3 735.2,396.5 732.4,398.6 727.8,400.4 721.9,401.7 715.0,402.6 707.6,402.9 700.2,402.6 693.3,401.7 687.4,400.4 682.8,398.6 680.0,396.5 679.0,394.3 680.8,390.1 682.5,385.8 684.1,381.6 685.7,377.3 687.1,373.1 688.6,368.8 689.9,364.6 691.2,360.3 692.6,356.1 693.9,351.8 695.3,347.6 696.6,343.3 698.0,339.1 699.3,334.8 700.7,330.6" fill="url(#g7)"/>
<path d="M699.8 334.3 A7.8 2.3 0 0 0 715.4 334.3" fill="none" stroke="#0a2a0a" stroke-width="0.6" opacity="0.60"/>
<path d="M697.2 342.3 A10.4 3.1 0 0 0 718.0 342.3" fill="none" stroke="#0a2a0a" stroke-width="0.6" opacity="0.60"/>
<path d="M694.7 350.3 A12.9 3.9 0 0 0 720.5 350.3" fill="none" stroke="#0a2a0a" stroke-width="0.6" opacity="0.60"/>
<path d="M692.2 358.3 A15.4 4.6 0 0 0 723.0 358.3" fill="none" stroke="#0a2a0a" stroke-width="0.6" opacity="0.60"/>
<path d="M689.7 366.3 A17.9 5.4 0 0 0 725.5 366.3" fill="none" stroke="#0a2a0a" stroke-width="0.6" opacity="0.60"/>
<path d="M687.0 374.3 A20.6 6.2 0 0 0 728.2 374.3" fill="none" stroke="#0a2a0a" stroke-width="0.6" opacity="0.60"/>
<path d="M684.1 382.3 A23.5 7.0 0 0 0 731.1 382.3" fill="none" stroke="#0a2a0a" stroke-width="0.6" opacity="0.60"/>
<path d="M681.0 390.3 A26.6 8.0 0 0 0 734.2 390.3" fill="none" stroke="#0a2a0a" stroke-width="0.6" opacity="0.60"/>
<polygon points="587.0,400.0 575.2,419.8 590.0,429.0 600.0,430.0" fill="url(#g8)"/>
<polygon points="617.0,400.0 634.0,425.5 620.0,431.0 605.0,430.0" fill="url(#g8)"/>
<polygon points="596.3,369.0 596.7,368.4 598.0,367.9 599.9,367.5 602.1,367.4 604.3,367.5 606.2,367.9 607.5,368.4 607.9,369.0 609.1,372.6 610.3,376.2 611.5,379.9 612.6,383.5 613.8,387.1 615.0,390.8 616.2,394.4 617.4,398.0 618.6,401.6 619.8,405.2 621.0,408.9 622.4,412.5 623.8,416.1 625.2,419.8 626.8,423.4 628.4,427.0 627.5,429.0 624.9,430.9 620.7,432.6 615.2,433.8 608.9,434.6 602.1,434.9 595.3,434.6 589.0,433.8 583.5,432.6 579.3,430.9 576.7,429.0 575.8,427.0 577.4,423.4 579.0,419.8 580.4,416.1 581.8,412.5 583.2,408.9 584.4,405.2 585.6,401.6 586.8,398.0 588.0,394.4 589.2,390.8 590.4,387.1 591.6,383.5 592.7,379.9 593.9,376.2 595.1,372.6" fill="url(#g8)"/>
<path d="M594.4 375.8 A7.7 2.3 0 0 0 609.8 375.8" fill="none" stroke="#0a2a0a" stroke-width="0.6" opacity="0.60"/>
<path d="M592.1 382.6 A10.0 3.0 0 0 0 612.1 382.6" fill="none" stroke="#0a2a0a" stroke-width="0.6" opacity="0.60"/>
<path d="M589.9 389.5 A12.2 3.7 0 0 0 614.3 389.5" fill="none" stroke="#0a2a0a" stroke-width="0.6" opacity="0.60"/>
<path d="M587.7 396.3 A14.4 4.3 0 0 0 616.5 396.3" fill="none" stroke="#0a2a0a" stroke-width="0.6" opacity="0.60"/>
<path d="M585.4 403.1 A16.7 5.0 0 0 0 618.8 403.1" fill="none" stroke="#0a2a0a" stroke-width="0.6" opacity="0.60"/>
<path d="M583.1 409.9 A19.0 5.7 0 0 0 621.1 409.9" fill="none" stroke="#0a2a0a" stroke-width="0.6" opacity="0.60"/>
<path d="M580.5 416.8 A21.6 6.5 0 0 0 623.7 416.8" fill="none" stroke="#0a2a0a" stroke-width="0.6" opacity="0.60"/>
<path d="M577.6 423.6 A24.5 7.3 0 0 0 626.6 423.6" fill="none" stroke="#0a2a0a" stroke-width="0.6" opacity="0.60"/>
<polygon points="672.0,392.0 651.0,425.0 668.0,426.0 685.0,424.0" fill="url(#g9)"/>
<polygon points="681.6,361.4 682.0,360.8 683.3,360.3 685.2,359.9 687.4,359.8 689.6,359.9 691.5,360.3 692.8,360.8 693.2,361.4 694.4,365.0 695.6,368.6 696.8,372.3 697.9,375.9 699.1,379.5 700.3,383.1 701.5,386.8 702.7,390.4 703.9,394.0 705.1,397.6 706.3,401.3 707.7,404.9 709.1,408.5 710.5,412.1 712.1,415.8 713.7,419.4 712.8,421.4 710.2,423.3 706.0,425.0 700.5,426.2 694.2,427.0 687.4,427.3 680.6,427.0 674.2,426.2 668.8,425.0 664.6,423.3 662.0,421.4 661.1,419.4 662.7,415.8 664.3,412.1 665.7,408.5 667.1,404.9 668.5,401.3 669.7,397.6 670.9,394.0 672.1,390.4 673.3,386.8 674.5,383.1 675.7,379.5 676.9,375.9 678.0,372.3 679.2,368.6 680.4,365.0" fill="url(#g9)"/>
<path d="M679.7 368.2 A7.7 2.3 0 0 0 695.1 368.2" fill="none" stroke="#0a2a0a" stroke-width="0.6" opacity="0.60"/>
<path d="M677.4 375.0 A10.0 3.0 0 0 0 697.4 375.0" fill="none" stroke="#0a2a0a" stroke-width="0.6" opacity="0.60"/>
<path d="M675.2 381.9 A12.2 3.7 0 0 0 699.6 381.9" fill="none" stroke="#0a2a0a" stroke-width="0.6" opacity="0.60"/>
<path d="M673.0 388.7 A14.4 4.3 0 0 0 701.8 388.7" fill="none" stroke="#0a2a0a" stroke-width="0.6" opacity="0.60"/>
<path d="M670.7 395.5 A16.7 5.0 0 0 0 704.1 395.5" fill="none" stroke="#0a2a0a" stroke-width="0.6" opacity="0.60"/>
<path d="M668.4 402.3 A19.0 5.7 0 0 0 706.4 402.3" fill="none" stroke="#0a2a0a" stroke-width="0.6" opacity="0.60"/>
<path d="M665.8 409.2 A21.6 6.5 0 0 0 709.0 409.2" fill="none" stroke="#0a2a0a" stroke-width="0.6" opacity="0.60"/>
<path d="M662.9 416.0 A24.5 7.3 0 0 0 711.9 416.0" fill="none" stroke="#0a2a0a" stroke-width="0.6" opacity="0.60"/>
<polygon points="545.2,240.5 546.7,244.5 548.1,248.5 549.6,252.5 551.0,256.5 552.5,260.5 553.9,264.5 555.4,268.5 556.8,272.5 558.2,276.5 559.7,280.5 562.2,282.3 568.2,282.3 570.7,280.5 572.2,276.5 573.6,272.5 575.1,268.5 576.5,264.5 578.0,260.5 579.4,256.5 580.9,252.5 582.3,248.5 583.8,244.5 585.2,240.5" fill="url(#g10)"/>
<path d="M553.6 262.7 A11.6 2.6 0 0 0 576.8 262.7" fill="none" stroke="#0a2a0a" stroke-width="0.7" opacity="0.70"/>
<polygon points="624.0,234.0 625.5,238.0 626.9,242.0 628.4,246.0 629.8,250.0 631.2,254.0 632.7,258.0 634.1,262.0 635.6,266.0 637.0,270.0 638.5,274.0 641.0,275.8 647.0,275.8 649.5,274.0 651.0,270.0 652.4,266.0 653.9,262.0 655.3,258.0 656.8,254.0 658.2,250.0 659.6,246.0 661.1,242.0 662.5,238.0 664.0,234.0" fill="url(#g11)"/>
<path d="M632.4 256.2 A11.6 2.6 0 0 0 655.6 256.2" fill="none" stroke="#0a2a0a" stroke-width="0.7" opacity="0.70"/>
<polygon points="722.0,246.0 735.0,243.0 718.5,294.0 712.5,299.5 705.0,295.0" fill="url(#g12)" />
<polygon points="497.3,214.3 535.7,171.5 655.6,161.6 752.9,194.4 726.5,246.0 593.2,259.8" fill="#0cec10" />
<polygon points="508.5,218.0 538.5,181.0 652.0,171.5 742.0,200.0 721.0,240.5 593.0,250.0" fill="url(#g13)" />
<polyline points="593.0,250.0 508.5,218.0 538.5,181.0 652.0,171.5 742.0,200.0 721.0,240.5" fill="none" stroke="#0a2a0a" stroke-width="0.7" opacity="0.7" stroke-linejoin="round"/>
<polyline points="541.2,226.2 522.6,219.2 549.0,186.6 648.9,178.2 728.1,203.3 717.0,224.7" fill="none" stroke="#0a2a0a" stroke-width="0.7" opacity="0.60" stroke-linejoin="round"/>
<ellipse cx="529" cy="221" rx="18" ry="8.5" fill="#98ff00" filter="url(#b2)" transform="rotate(-47 529 221)"/>
<ellipse cx="718" cy="226" rx="10" ry="16" fill="#a8ff00" filter="url(#b2)" transform="rotate(28 718 226)"/>
<polygon points="553.0,196.0 546.0,201.0 541.0,213.0 538.0,232.0 560.0,240.0 580.0,215.0" fill="url(#g14)" />
<polygon points="542.0,225.0 550.0,206.4 552.6,197.1 567.2,190.4 579.2,177.1 584.5,167.8 593.8,157.2 608.5,145.2 617.8,126.6 623.0,122.8 628.4,121.2 633.2,122.6 637.7,125.3 648.4,142.6 661.6,161.2 673.6,179.8 685.6,199.7 700.2,218.4 713.5,237.0 700.0,243.0 643.0,246.0 598.0,243.0 560.0,236.0" fill="url(#g15)" />
<path d="M608.5 144.0 C611.0 144.6 623.4 148.7 628.4 148.5 C633.4 148.3 645.9 143.3 648.4 142.6" fill="none" stroke="#0a2a0a" stroke-width="0.7" stroke-linejoin="round" opacity="0.6"/>
<path d="M593.3 157.2 C594.0 158.4 593.6 164.8 599.0 166.5 C604.4 168.2 628.4 171.3 636.4 170.8 C644.4 170.3 659.7 163.5 663.0 162.5" fill="none" stroke="#0a2a0a" stroke-width="0.7" stroke-linejoin="round" opacity="0.6"/>
<path d="M580.5 174.5 C581.3 175.8 579.6 182.7 587.2 185.0 C594.9 187.3 630.7 193.4 641.7 193.0 C652.7 192.6 670.8 183.4 675.0 182.0" fill="none" stroke="#0a2a0a" stroke-width="0.7" stroke-linejoin="round" opacity="0.6"/>
<path d="M567.2 189.0 C569.2 191.5 573.4 205.5 583.0 209.0 C592.6 212.5 631.4 217.8 644.4 217.0 C657.4 216.2 681.7 204.2 687.0 202.4" fill="none" stroke="#0a2a0a" stroke-width="0.7" stroke-linejoin="round" opacity="0.6"/>
<path d="M550.0 206.0 C551.5 209.0 555.8 227.2 562.0 230.0 C568.2 232.8 590.2 226.9 600.0 228.0 C609.8 229.1 627.2 239.4 640.0 238.5 C652.8 237.6 694.2 223.2 702.0 221.0" fill="none" stroke="#0a2a0a" stroke-width="0.7" stroke-linejoin="round" opacity="0.6"/>
<polygon points="497.3,214.3 593.2,259.8 726.5,246.0 752.9,194.4 742.0,200.0 721.0,240.5 593.0,250.0 508.5,218.0" fill="#0eea0e" />
<polyline points="508.5,218.0 593.0,250.0 721.0,240.5 742.0,200.0" fill="none" stroke="#0a2a0a" stroke-width="0.6" opacity="0.45"/>
<polygon points="726.5,246.0 752.9,194.4 747.5,211.0 723.0,263.0 716.0,262.0" fill="url(#g16)" />
<clipPath id="cs2"><polygon points="546.0,237.5 566.0,247.0 593.2,259.8 663.0,252.6 663.0,279.0 628.0,282.0 626.6,286.0 617.7,313.8 610.0,335.7 607.5,339.6 600.8,339.8 598.4,334.5 589.7,305.8 581.8,277.0 563.5,262.8 546.0,262.8"/></clipPath>
<polygon points="546.0,237.5 566.0,247.0 593.2,259.8 663.0,252.6 663.0,279.0 628.0,282.0 626.6,286.0 617.7,313.8 610.0,335.7 607.5,339.6 600.8,339.8 598.4,334.5 589.7,305.8 581.8,277.0 563.5,262.8 546.0,262.8" fill="url(#g17)" />
<g clip-path="url(#cs2)">
<path d="M588.7 325.0 A15.8 3.2 0 0 0 620.3 325.0" fill="none" stroke="#0a2a0a" stroke-width="0.7" opacity="0.7"/>
<path d="M584.1 312.0 A20.4 4.1 0 0 0 624.9 312.0" fill="none" stroke="#0a2a0a" stroke-width="0.7" opacity="0.7"/>
<path d="M579.0 298.0 A25.5 5.1 0 0 0 630.0 298.0" fill="none" stroke="#0a2a0a" stroke-width="0.7" opacity="0.7"/>
</g>
<g mask="url(#mk1)">
<clipPath id="cs1"><polygon points="497.3,214.3 566.0,247.0 563.5,257.0 558.8,270.0 551.8,287.8 545.2,311.0 543.5,313.8 536.0,313.6 533.4,310.0 520.0,270.0 511.9,250.0 505.0,230.0"/></clipPath>
<polygon points="497.3,214.3 566.0,247.0 563.5,257.0 558.8,270.0 551.8,287.8 545.2,311.0 543.5,313.8 536.0,313.6 533.4,310.0 520.0,270.0 511.9,250.0 505.0,230.0" fill="url(#g18)" />
<g clip-path="url(#cs1)">
<path d="M523.8 297.0 A16.1 3.2 0 0 0 556.0 297.0" fill="none" stroke="#0a2a0a" stroke-width="0.7" opacity="0.7"/>
<path d="M519.1 284.0 A20.8 4.2 0 0 0 560.7 284.0" fill="none" stroke="#0a2a0a" stroke-width="0.7" opacity="0.7"/>
<path d="M514.0 270.0 A25.9 5.2 0 0 0 565.8 270.0" fill="none" stroke="#0a2a0a" stroke-width="0.7" opacity="0.7"/>
</g>
</g>
<g mask="url(#mk3)">
<clipPath id="cs3"><polygon points="642.0,254.8 726.5,246.0 723.0,263.0 714.7,276.0 704.9,301.5 696.0,329.5 693.5,332.6 685.2,332.6 682.3,327.0 666.7,277.8 642.0,280.6"/></clipPath>
<polygon points="642.0,254.8 726.5,246.0 723.0,263.0 714.7,276.0 704.9,301.5 696.0,329.5 693.5,332.6 685.2,332.6 682.3,327.0 666.7,277.8 642.0,280.6" fill="url(#g19)" />
<g clip-path="url(#cs3)">
<path d="M673.2 319.0 A16.3 3.3 0 0 0 705.8 319.0" fill="none" stroke="#0a2a0a" stroke-width="0.7" opacity="0.7"/>
<path d="M667.9 306.0 A21.6 4.3 0 0 0 711.1 306.0" fill="none" stroke="#0a2a0a" stroke-width="0.7" opacity="0.7"/>
<path d="M660.9 289.0 A28.6 5.7 0 0 0 718.1 289.0" fill="none" stroke="#0a2a0a" stroke-width="0.7" opacity="0.7"/>
</g>
</g>
<polyline points="497.3,214.3 593.2,259.8 726.5,246.0 752.9,194.4" fill="none" stroke="#0a2a0a" stroke-width="0.7" opacity="0.75"/>
<polyline points="502.5,227.0 594.5,271.0 724.0,257.5 748.5,206.0" fill="none" stroke="#0a2a0a" stroke-width="0.7" opacity="0.7"/>
<line x1="409.3" y1="113.8" x2="412.3" y2="303.0" stroke="#111" stroke-width="1.70" />
<line x1="412.3" y1="303.0" x2="412.6" y2="318.0" stroke="#555" stroke-width="1.40" />
<line x1="412.6" y1="318.0" x2="415.0" y2="409.8" stroke="#111" stroke-width="1.70" />
<line x1="407.7" y1="312.9" x2="417.9" y2="303.9" stroke="#111" stroke-width="1.40" />
<line x1="408.2" y1="317.7" x2="418.1" y2="309.4" stroke="#111" stroke-width="1.40" />
<text transform="matrix(0.70,-0.15,-0.07,1,403.0,126.4)" font-size="27" font-weight="bold" text-anchor="end" fill="#111">5.0</text>
<line x1="409.9" y1="146.6" x2="414.9" y2="145.6" stroke="#111" stroke-width="1.30" />
<text transform="matrix(0.70,-0.15,-0.07,1,403.0,159.2)" font-size="27" font-weight="bold" text-anchor="end" fill="#111">4.5</text>
<line x1="410.6" y1="179.3" x2="415.6" y2="178.3" stroke="#111" stroke-width="1.30" />
<text transform="matrix(0.70,-0.15,-0.07,1,403.0,191.9)" font-size="27" font-weight="bold" text-anchor="end" fill="#111">4.0</text>
<line x1="411.2" y1="211.8" x2="416.2" y2="210.8" stroke="#111" stroke-width="1.30" />
<text transform="matrix(0.70,-0.15,-0.07,1,403.0,224.4)" font-size="27" font-weight="bold" text-anchor="end" fill="#111">3.5</text>
<line x1="411.8" y1="244.0" x2="416.8" y2="243.0" stroke="#111" stroke-width="1.30" />
<text transform="matrix(0.70,-0.15,-0.07,1,403.0,256.6)" font-size="27" font-weight="bold" text-anchor="end" fill="#111">3.0</text>
<line x1="412.4" y1="276.5" x2="417.4" y2="275.5" stroke="#111" stroke-width="1.30" />
<text transform="matrix(0.70,-0.15,-0.07,1,403.0,289.1)" font-size="27" font-weight="bold" text-anchor="end" fill="#111">2.5</text>
<line x1="413.5" y1="329.5" x2="418.5" y2="328.5" stroke="#111" stroke-width="1.30" />
<text transform="matrix(0.70,-0.15,-0.07,1,403.0,342.1)" font-size="27" font-weight="bold" text-anchor="end" fill="#111">0.0</text>
<line x1="414.1" y1="360.8" x2="419.1" y2="359.8" stroke="#111" stroke-width="1.30" />
<text transform="matrix(0.70,-0.15,-0.07,1,403.0,373.4)" font-size="27" font-weight="bold" text-anchor="end" fill="#111">-0.5</text>
<line x1="414.7" y1="392.2" x2="419.7" y2="391.2" stroke="#111" stroke-width="1.30" />
<text transform="matrix(0.70,-0.15,-0.07,1,403.0,404.8)" font-size="27" font-weight="bold" text-anchor="end" fill="#111">-1.0</text>
<text transform="translate(368.6,358.9) rotate(-90)" font-size="24" font-weight="bold" fill="#111" textLength="152.5" lengthAdjust="spacingAndGlyphs">Energy (eV)</text>
<polyline points="415.0,409.8 625.0,515.5 831.0,415.8" fill="none" stroke="#111" stroke-width="1.7" stroke-linejoin="miter"/>
<line x1="436.7" y1="418.4" x2="440.8" y2="416.4" stroke="#111" stroke-width="1.30" />
<line x1="456.7" y1="428.4" x2="459.4" y2="427.1" stroke="#111" stroke-width="1.00" />
<line x1="476.7" y1="438.4" x2="480.8" y2="436.4" stroke="#111" stroke-width="1.30" />
<line x1="497.2" y1="448.5" x2="499.9" y2="447.2" stroke="#111" stroke-width="1.00" />
<line x1="517.7" y1="458.7" x2="521.8" y2="456.7" stroke="#111" stroke-width="1.30" />
<line x1="538.8" y1="469.9" x2="541.5" y2="468.5" stroke="#111" stroke-width="1.00" />
<line x1="559.8" y1="481.0" x2="563.8" y2="479.0" stroke="#111" stroke-width="1.30" />
<line x1="582.5" y1="492.1" x2="585.2" y2="490.8" stroke="#111" stroke-width="1.00" />
<line x1="605.2" y1="503.2" x2="609.2" y2="501.2" stroke="#111" stroke-width="1.30" />
<line x1="645.9" y1="504.8" x2="641.9" y2="502.8" stroke="#111" stroke-width="1.30" />
<line x1="667.3" y1="494.0" x2="664.6" y2="492.6" stroke="#111" stroke-width="1.00" />
<line x1="688.7" y1="483.1" x2="684.7" y2="481.1" stroke="#111" stroke-width="1.30" />
<line x1="709.7" y1="472.9" x2="707.0" y2="471.5" stroke="#111" stroke-width="1.00" />
<line x1="730.6" y1="462.6" x2="726.6" y2="460.6" stroke="#111" stroke-width="1.30" />
<line x1="750.9" y1="452.6" x2="748.2" y2="451.2" stroke="#111" stroke-width="1.00" />
<line x1="771.2" y1="442.5" x2="767.2" y2="440.5" stroke="#111" stroke-width="1.30" />
<line x1="790.6" y1="433.4" x2="787.9" y2="432.0" stroke="#111" stroke-width="1.00" />
<line x1="810.0" y1="424.2" x2="806.0" y2="422.2" stroke="#111" stroke-width="1.30" />
<text transform="matrix(0.78,0.39,-0.95,0.40,423.0,425.5)" font-size="16.5" font-weight="bold" text-anchor="middle" fill="#111" stroke="#111" stroke-width="0.7" y="5.8">-2</text>
<text transform="matrix(0.78,0.39,-0.95,0.40,461.4,446.0)" font-size="16.5" font-weight="bold" text-anchor="middle" fill="#111" stroke="#111" stroke-width="0.7" y="5.8">-1</text>
<text transform="matrix(0.78,0.39,-0.95,0.40,505.6,464.7)" font-size="16.5" font-weight="bold" text-anchor="middle" fill="#111" stroke="#111" stroke-width="0.7" y="5.8">0</text>
<text transform="matrix(0.78,0.39,-0.95,0.40,548.4,486.5)" font-size="16.5" font-weight="bold" text-anchor="middle" fill="#111" stroke="#111" stroke-width="0.7" y="5.8">1</text>
<text transform="matrix(0.78,0.39,-0.95,0.40,592.4,510.0)" font-size="16.5" font-weight="bold" text-anchor="middle" fill="#111" stroke="#111" stroke-width="0.7" y="5.8">2</text>
<text transform="matrix(0.78,0.39,-0.95,0.40,663.0,513.0)" font-size="16.5" font-weight="bold" text-anchor="middle" fill="#111" stroke="#111" stroke-width="0.7" y="5.8">-2</text>
<text transform="matrix(0.78,0.39,-0.95,0.40,707.0,491.0)" font-size="16.5" font-weight="bold" text-anchor="middle" fill="#111" stroke="#111" stroke-width="0.7" y="5.8">-1</text>
<text transform="matrix(0.78,0.39,-0.95,0.40,743.5,467.0)" font-size="16.5" font-weight="bold" text-anchor="middle" fill="#111" stroke="#111" stroke-width="0.7" y="5.8">0</text>
<text transform="matrix(0.78,0.39,-0.95,0.40,784.4,448.0)" font-size="16.5" font-weight="bold" text-anchor="middle" fill="#111" stroke="#111" stroke-width="0.7" y="5.8">1</text>
<text transform="matrix(0.78,0.39,-0.95,0.40,822.0,429.8)" font-size="16.5" font-weight="bold" text-anchor="middle" fill="#111" stroke="#111" stroke-width="0.7" y="5.8">2</text>
<text transform="matrix(0.85,0.43,-1.0,0.49,474.5,477.5)" font-family="Liberation Serif" font-size="22" font-style="italic" font-weight="bold" text-anchor="middle" fill="#111" y="5">k<tspan font-size="14" dy="3.5">x</tspan></text>
<text transform="matrix(0.86,-0.42,0.98,0.50,776.0,480.0)" font-family="Liberation Serif" font-size="22" font-style="italic" font-weight="bold" text-anchor="middle" fill="#111" y="5">k<tspan font-size="14" dy="3.5">y</tspan></text>
<linearGradient id="gar" gradientUnits="userSpaceOnUse" x1="695" y1="0" x2="960" y2="0"><stop offset="0" stop-color="#b1b7a7"/><stop offset="0.35" stop-color="#b2bda2"/><stop offset="0.6" stop-color="#aecb96"/><stop offset="1" stop-color="#a9d08e"/></linearGradient>
<path d="M697.0 167.6 C697.7 164.7 698.2 156.4 701.3 149.9 C704.4 143.4 709.2 135.1 715.5 128.6 C721.8 122.1 729.2 116.4 739.1 110.9 C749.0 105.4 762.4 99.6 774.6 95.5 C786.8 91.4 802.3 88.4 812.5 86.5 C822.7 84.6 832.1 84.7 836.0 84.3 L836.0 84.7 C832.1 85.3 821.9 86.0 812.5 88.4 C803.1 90.8 789.6 94.7 779.4 99.0 C769.1 103.3 759.3 109.1 751.0 114.4 C742.7 119.7 735.2 125.1 729.7 131.0 C724.2 136.9 720.7 144.2 717.9 149.9 C715.1 155.6 713.9 162.7 713.1 165.3 Q705 165 697 167.6 Z" fill="url(#gar)"/>
<path d="M834.0 84.2 C835.9 84.1 839.7 83.7 845.6 83.7 C851.5 83.7 861.4 83.4 869.3 84.4 C877.2 85.4 885.0 87.5 892.9 89.6 C900.8 91.6 909.5 94.0 916.6 96.7 C923.7 99.5 930.0 102.9 935.5 106.1 C941.0 109.2 947.3 114.0 949.7 115.6 L960.3 117.5 L950.9 134.5 L928.9 122 L936.7 122.0 C935.7 121.1 934.1 119.5 930.8 116.8 C927.4 114.1 922.9 109.6 916.6 106.1 C910.3 102.5 900.8 98.5 892.9 95.5 C885.0 92.5 877.2 90.2 869.3 88.4 C861.4 86.6 851.5 85.4 845.6 84.8 C839.7 84.2 835.9 84.6 834.0 84.6 Z" fill="url(#gar)"/>
<path d="M693.0 451.3 C693.2 453.7 692.4 460.4 694.2 465.5 C696.0 470.6 699.0 476.7 703.7 482.0 C708.4 487.3 714.7 492.8 722.6 497.4 C730.5 501.9 741.5 506.1 751.0 509.3 C760.5 512.5 769.1 514.5 779.4 516.4 C789.6 518.3 805.1 519.8 812.5 520.6 C819.9 521.4 822.1 521.1 824.0 521.2 L824.0 520.8 C822.1 520.6 818.8 521.0 812.5 519.9 C806.2 518.8 795.2 516.4 786.5 514.0 C777.8 511.6 769.1 509.2 760.4 505.7 C751.7 502.1 741.5 497.0 734.4 492.7 C727.3 488.4 722.0 484.2 717.9 479.7 C713.8 475.2 711.1 470.0 709.6 465.5 C708.1 461.0 709.0 454.7 708.9 452.5 Q701 450 693 451.3 Z" fill="url(#gar)"/>
<path d="M822.0 521.3 C825.9 521.3 837.7 521.4 845.6 521.1 C853.5 520.8 861.4 520.4 869.3 519.4 C877.2 518.4 885.0 517.3 892.9 515.2 C900.8 513.1 909.5 509.9 916.6 506.9 C923.7 503.9 930.0 500.8 935.5 497.4 C941.0 494.0 947.3 488.6 949.7 486.8 L963.9 482.5 L954.4 467.9 L934.3 480.9 L940.2 480.9 C938.6 482.3 934.7 486.0 930.8 489.1 C926.9 492.2 922.9 496.2 916.6 499.8 C910.3 503.4 900.8 507.5 892.9 510.4 C885.0 513.3 877.2 515.4 869.3 517.1 C861.4 518.8 853.5 519.8 845.6 520.4 C837.7 521.0 825.9 520.8 822.0 520.9 Z" fill="url(#gar)"/>
<text x="404.5" y="574.5" font-size="32" fill="#000" textLength="441" lengthAdjust="spacingAndGlyphs">Small, isotropic effective mass</text>
</svg></body></html>
